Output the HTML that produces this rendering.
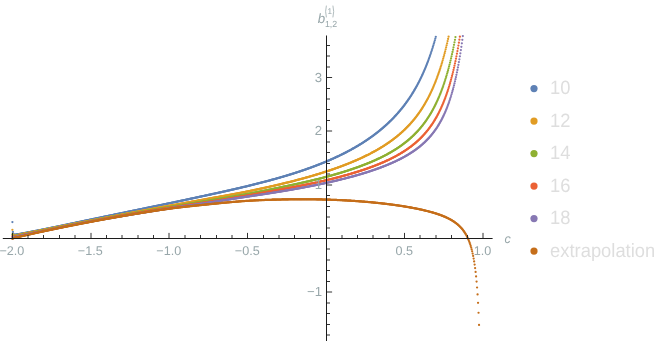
<!DOCTYPE html>
<html><head><meta charset="utf-8"><title>plot</title>
<style>
html,body{margin:0;padding:0;background:#fff;}
svg{display:block;font-family:"Liberation Sans",sans-serif;will-change:transform;transform:translateZ(0);}
text{text-rendering:geometricPrecision;}

</style></head><body>
<svg width="664" height="341" viewBox="0 0 664 341">
<rect width="664" height="341" fill="#fff"/>
<defs><marker id="mb" markerWidth="4" markerHeight="4" refX="2" refY="2" markerUnits="userSpaceOnUse"><circle cx="2" cy="2" r="1.12" fill="#5E81B5"/></marker><marker id="mo" markerWidth="4" markerHeight="4" refX="2" refY="2" markerUnits="userSpaceOnUse"><circle cx="2" cy="2" r="1.12" fill="#E19C24"/></marker><marker id="mg" markerWidth="4" markerHeight="4" refX="2" refY="2" markerUnits="userSpaceOnUse"><circle cx="2" cy="2" r="1.12" fill="#8FB032"/></marker><marker id="mr" markerWidth="4" markerHeight="4" refX="2" refY="2" markerUnits="userSpaceOnUse"><circle cx="2" cy="2" r="1.12" fill="#EB6235"/></marker><marker id="mp" markerWidth="4" markerHeight="4" refX="2" refY="2" markerUnits="userSpaceOnUse"><circle cx="2" cy="2" r="1.12" fill="#8778B3"/></marker><marker id="me" markerWidth="4" markerHeight="4" refX="2" refY="2" markerUnits="userSpaceOnUse"><circle cx="2" cy="2" r="1.12" fill="#C56E1A"/></marker></defs>
<polyline points="12.40,222.05 12.89,231.96 13.38,233.88 13.87,234.59 14.36,234.90 14.86,234.81 15.35,234.73 15.84,234.64 16.33,234.55 16.82,234.46 17.31,234.37 17.80,234.29 18.29,234.20 18.79,234.11 19.28,234.02 19.77,233.93 20.26,233.84 20.75,233.75 21.24,233.66 21.73,233.57 22.22,233.48 22.72,233.39 23.21,233.30 23.70,233.21 24.19,233.11 24.68,233.02 25.17,232.93 25.66,232.84 26.15,232.75 26.64,232.65 27.14,232.56 27.63,232.47 28.12,232.38 28.61,232.28 29.10,232.19 29.59,232.10 30.08,232.00 30.57,231.91 31.07,231.82 31.56,231.72 32.05,231.63 32.54,231.53 33.03,231.44 33.52,231.35 34.01,231.25 34.50,231.16 35.00,231.06 35.49,230.97 35.98,230.87 36.47,230.77 36.96,230.68 37.45,230.58 37.94,230.49 38.43,230.39 38.92,230.29 39.42,230.20 39.91,230.10 40.40,230.01 40.89,229.91 41.38,229.81 41.87,229.71 42.36,229.62 42.85,229.52 43.35,229.42 43.84,229.33 44.33,229.23 44.82,229.13 45.31,229.03 45.80,228.93 46.29,228.84 46.78,228.74 47.28,228.64 47.77,228.54 48.26,228.44 48.75,228.34 49.24,228.24 49.73,228.14 50.22,228.04 50.71,227.94 51.20,227.84 51.70,227.74 52.19,227.64 52.68,227.54 53.17,227.44 53.66,227.34 54.15,227.24 54.64,227.14 55.13,227.03 55.63,226.93 56.12,226.83 56.61,226.73 57.10,226.63 57.59,226.53 58.08,226.42 58.57,226.32 59.06,226.22 59.56,226.12 60.05,226.01 60.54,225.91 61.03,225.81 61.52,225.70 62.01,225.60 62.50,225.50 62.99,225.40 63.48,225.29 63.98,225.19 64.47,225.09 64.96,224.98 65.45,224.88 65.94,224.78 66.43,224.67 66.92,224.57 67.41,224.46 67.91,224.36 68.40,224.26 68.89,224.15 69.38,224.05 69.87,223.95 70.36,223.84 70.85,223.74 71.34,223.63 71.84,223.53 72.33,223.43 72.82,223.32 73.31,223.22 73.80,223.11 74.29,223.01 74.78,222.91 75.27,222.80 75.76,222.70 76.26,222.59 76.75,222.49 77.24,222.39 77.73,222.28 78.22,222.18 78.71,222.08 79.20,221.97 79.69,221.87 80.19,221.77 80.68,221.66 81.17,221.56 81.66,221.45 82.15,221.35 82.64,221.25 83.13,221.15 83.62,221.04 84.12,220.94 84.61,220.84 85.10,220.73 85.59,220.63 86.08,220.53 86.57,220.42 87.06,220.32 87.55,220.22 88.04,220.12 88.54,220.01 89.03,219.91 89.52,219.81 90.01,219.70 90.50,219.60 90.99,219.50 91.48,219.40 91.97,219.29 92.47,219.19 92.96,219.09 93.45,218.99 93.94,218.88 94.43,218.78 94.92,218.68 95.41,218.57 95.90,218.47 96.40,218.37 96.89,218.27 97.38,218.16 97.87,218.06 98.36,217.96 98.85,217.86 99.34,217.76 99.83,217.65 100.32,217.55 100.82,217.45 101.31,217.35 101.80,217.24 102.29,217.14 102.78,217.04 103.27,216.94 103.76,216.84 104.25,216.73 104.75,216.63 105.24,216.53 105.73,216.43 106.22,216.32 106.71,216.22 107.20,216.12 107.69,216.02 108.18,215.92 108.68,215.81 109.17,215.71 109.66,215.61 110.15,215.51 110.64,215.41 111.13,215.30 111.62,215.20 112.11,215.10 112.60,215.00 113.10,214.90 113.59,214.79 114.08,214.69 114.57,214.59 115.06,214.49 115.55,214.39 116.04,214.28 116.53,214.18 117.03,214.08 117.52,213.98 118.01,213.88 118.50,213.78 118.99,213.67 119.48,213.57 119.97,213.47 120.46,213.37 120.96,213.27 121.45,213.16 121.94,213.06 122.43,212.96 122.92,212.86 123.41,212.76 123.90,212.65 124.39,212.55 124.88,212.45 125.38,212.35 125.87,212.25 126.36,212.14 126.85,212.04 127.34,211.94 127.83,211.84 128.32,211.74 128.81,211.64 129.31,211.53 129.80,211.43 130.29,211.33 130.78,211.23 131.27,211.13 131.76,211.03 132.25,210.92 132.74,210.82 133.24,210.72 133.73,210.62 134.22,210.52 134.71,210.42 135.20,210.32 135.69,210.22 136.18,210.11 136.67,210.01 137.16,209.91 137.66,209.81 138.15,209.71 138.64,209.61 139.13,209.51 139.62,209.41 140.11,209.31 140.60,209.20 141.09,209.10 141.59,209.00 142.08,208.90 142.57,208.80 143.06,208.70 143.55,208.60 144.04,208.50 144.53,208.40 145.02,208.30 145.52,208.19 146.01,208.09 146.50,207.99 146.99,207.89 147.48,207.79 147.97,207.69 148.46,207.59 148.95,207.49 149.44,207.39 149.94,207.29 150.43,207.18 150.92,207.08 151.41,206.98 151.90,206.88 152.39,206.78 152.88,206.68 153.37,206.58 153.87,206.48 154.36,206.38 154.85,206.27 155.34,206.17 155.83,206.07 156.32,205.97 156.81,205.87 157.30,205.77 157.80,205.67 158.29,205.56 158.78,205.46 159.27,205.36 159.76,205.26 160.25,205.16 160.74,205.06 161.23,204.96 161.72,204.85 162.22,204.75 162.71,204.65 163.20,204.55 163.69,204.45 164.18,204.34 164.67,204.24 165.16,204.14 165.65,204.04 166.15,203.94 166.64,203.83 167.13,203.73 167.62,203.63 168.11,203.53 168.60,203.42 169.09,203.32 169.58,203.22 170.08,203.12 170.57,203.01 171.06,202.91 171.55,202.81 172.04,202.70 172.53,202.60 173.02,202.50 173.51,202.39 174.00,202.29 174.50,202.19 174.99,202.08 175.48,201.98 175.97,201.88 176.46,201.77 176.95,201.67 177.44,201.56 177.93,201.46 178.43,201.36 178.92,201.25 179.41,201.15 179.90,201.04 180.39,200.94 180.88,200.84 181.37,200.73 181.86,200.63 182.36,200.52 182.85,200.42 183.34,200.31 183.83,200.21 184.32,200.11 184.81,200.00 185.30,199.90 185.79,199.79 186.28,199.69 186.78,199.58 187.27,199.48 187.76,199.37 188.25,199.27 188.74,199.16 189.23,199.06 189.72,198.95 190.21,198.85 190.71,198.74 191.20,198.64 191.69,198.53 192.18,198.43 192.67,198.32 193.16,198.22 193.65,198.11 194.14,198.01 194.64,197.90 195.13,197.80 195.62,197.69 196.11,197.59 196.60,197.48 197.09,197.37 197.58,197.27 198.07,197.16 198.56,197.06 199.06,196.95 199.55,196.85 200.04,196.74 200.53,196.64 201.02,196.53 201.51,196.43 202.00,196.32 202.49,196.21 202.99,196.11 203.48,196.00 203.97,195.90 204.46,195.79 204.95,195.69 205.44,195.58 205.93,195.47 206.42,195.37 206.92,195.26 207.41,195.16 207.90,195.05 208.39,194.95 208.88,194.84 209.37,194.73 209.86,194.63 210.35,194.52 210.84,194.42 211.34,194.31 211.83,194.20 212.32,194.10 212.81,193.99 213.30,193.88 213.79,193.78 214.28,193.67 214.77,193.56 215.27,193.46 215.76,193.35 216.25,193.24 216.74,193.13 217.23,193.03 217.72,192.92 218.21,192.81 218.70,192.70 219.20,192.59 219.69,192.49 220.18,192.38 220.67,192.27 221.16,192.16 221.65,192.05 222.14,191.94 222.63,191.83 223.12,191.72 223.62,191.61 224.11,191.50 224.60,191.39 225.09,191.29 225.58,191.18 226.07,191.07 226.56,190.95 227.05,190.84 227.55,190.73 228.04,190.62 228.53,190.51 229.02,190.40 229.51,190.29 230.00,190.18 230.49,190.07 230.98,189.96 231.48,189.84 231.97,189.73 232.46,189.62 232.95,189.51 233.44,189.39 233.93,189.28 234.42,189.17 234.91,189.06 235.40,188.94 235.90,188.83 236.39,188.71 236.88,188.60 237.37,188.49 237.86,188.37 238.35,188.26 238.84,188.14 239.33,188.03 239.83,187.91 240.32,187.80 240.81,187.68 241.30,187.57 241.79,187.45 242.28,187.33 242.77,187.22 243.26,187.10 243.76,186.98 244.25,186.87 244.74,186.75 245.23,186.63 245.72,186.51 246.21,186.40 246.70,186.28 247.19,186.16 247.68,186.04 248.18,185.92 248.67,185.80 249.16,185.68 249.65,185.56 250.14,185.44 250.63,185.32 251.12,185.20 251.61,185.08 252.11,184.96 252.60,184.84 253.09,184.72 253.58,184.59 254.07,184.47 254.56,184.35 255.05,184.23 255.54,184.10 256.04,183.98 256.53,183.86 257.02,183.73 257.51,183.61 258.00,183.48 258.49,183.36 258.98,183.23 259.47,183.11 259.96,182.98 260.46,182.86 260.95,182.73 261.44,182.60 261.93,182.48 262.42,182.35 262.91,182.22 263.40,182.09 263.89,181.96 264.39,181.84 264.88,181.71 265.37,181.58 265.86,181.45 266.35,181.32 266.84,181.19 267.33,181.05 267.82,180.92 268.32,180.79 268.81,180.66 269.30,180.53 269.79,180.39 270.28,180.26 270.77,180.13 271.26,179.99 271.75,179.86 272.24,179.73 272.74,179.59 273.23,179.45 273.72,179.32 274.21,179.18 274.70,179.05 275.19,178.91 275.68,178.77 276.17,178.63 276.67,178.49 277.16,178.36 277.65,178.22 278.14,178.08 278.63,177.94 279.12,177.80 279.61,177.65 280.10,177.51 280.60,177.37 281.09,177.23 281.58,177.09 282.07,176.94 282.56,176.80 283.05,176.65 283.54,176.51 284.03,176.36 284.52,176.22 285.02,176.07 285.51,175.93 286.00,175.78 286.49,175.63 286.98,175.48 287.47,175.33 287.96,175.19 288.45,175.04 288.95,174.89 289.44,174.73 289.93,174.58 290.42,174.43 290.91,174.28 291.40,174.13 291.89,173.97 292.38,173.82 292.88,173.66 293.37,173.51 293.86,173.35 294.35,173.20 294.84,173.04 295.33,172.88 295.82,172.72 296.31,172.56 296.80,172.41 297.30,172.25 297.79,172.08 298.28,171.92 298.77,171.76 299.26,171.60 299.75,171.44 300.24,171.27 300.73,171.11 301.23,170.94 301.72,170.78 302.21,170.61 302.70,170.45 303.19,170.28 303.68,170.11 304.17,169.94 304.66,169.77 305.16,169.60 305.65,169.43 306.14,169.26 306.63,169.09 307.12,168.91 307.61,168.74 308.10,168.56 308.59,168.39 309.08,168.21 309.58,168.04 310.07,167.86 310.56,167.68 311.05,167.50 311.54,167.32 312.03,167.14 312.52,166.96 313.01,166.78 313.51,166.60 314.00,166.41 314.49,166.23 314.98,166.04 315.47,165.86 315.96,165.67 316.45,165.48 316.94,165.29 317.44,165.10 317.93,164.91 318.42,164.72 318.91,164.53 319.40,164.34 319.89,164.14 320.38,163.95 320.87,163.75 321.36,163.56 321.86,163.36 322.35,163.16 322.84,162.96 323.33,162.76 323.82,162.56 324.31,162.36 324.80,162.16 325.29,161.95 325.79,161.75 326.28,161.54 326.77,161.33 327.26,161.13 327.75,160.92 328.24,160.71 328.73,160.50 329.22,160.28 329.72,160.07 330.21,159.86 330.70,159.64 331.19,159.43 331.68,159.21 332.17,158.99 332.66,158.77 333.15,158.55 333.64,158.33 334.14,158.11 334.63,157.88 335.12,157.66 335.61,157.43 336.10,157.20 336.59,156.97 337.08,156.74 337.57,156.51 338.07,156.28 338.56,156.05 339.05,155.81 339.54,155.58 340.03,155.34 340.52,155.10 341.01,154.86 341.50,154.62 342.00,154.38 342.49,154.13 342.98,153.89 343.47,153.64 343.96,153.40 344.45,153.15 344.94,152.90 345.43,152.64 345.92,152.39 346.42,152.14 346.91,151.88 347.40,151.62 347.89,151.36 348.38,151.10 348.87,150.84 349.36,150.58 349.85,150.31 350.35,150.04 350.84,149.78 351.33,149.51 351.82,149.23 352.31,148.96 352.80,148.69 353.29,148.41 353.78,148.13 354.28,147.85 354.77,147.57 355.26,147.29 355.75,147.00 356.24,146.72 356.73,146.43 357.22,146.14 357.71,145.85 358.20,145.55 358.70,145.26 359.19,144.96 359.68,144.66 360.17,144.36 360.66,144.06 361.15,143.75 361.64,143.44 362.13,143.14 362.63,142.82 363.12,142.51 363.61,142.20 364.10,141.88 364.59,141.56 365.08,141.24 365.57,140.91 366.06,140.59 366.56,140.26 367.05,139.93 367.54,139.60 368.03,139.26 368.52,138.93 369.01,138.59 369.50,138.24 369.99,137.90 370.48,137.55 370.98,137.20 371.47,136.85 371.96,136.50 372.45,136.14 372.94,135.78 373.43,135.42 373.92,135.05 374.41,134.69 374.91,134.32 375.40,133.94 375.89,133.57 376.38,133.19 376.87,132.81 377.36,132.42 377.85,132.03 378.34,131.64 378.84,131.25 379.33,130.85 379.82,130.45 380.31,130.05 380.80,129.64 381.29,129.24 381.78,128.82 382.27,128.41 382.76,127.99 383.26,127.56 383.75,127.14 384.24,126.71 384.73,126.27 385.22,125.84 385.71,125.39 386.20,124.95 386.69,124.50 387.19,124.05 387.68,123.59 388.17,123.13 388.66,122.66 389.15,122.20 389.64,121.72 390.13,121.24 390.62,120.76 391.12,120.28 391.61,119.78 392.10,119.29 392.59,118.79 393.08,118.28 393.57,117.77 394.06,117.26 394.55,116.74 395.04,116.21 395.54,115.68 396.03,115.15 396.52,114.61 397.01,114.06 397.50,113.51 397.99,112.95 398.48,112.39 398.97,111.82 399.47,111.24 399.96,110.66 400.45,110.07 400.94,109.48 401.43,108.88 401.92,108.27 402.41,107.66 402.90,107.04 403.40,106.41 403.89,105.77 404.38,105.13 404.87,104.48 405.36,103.83 405.85,103.16 406.34,102.49 406.83,101.81 407.32,101.12 407.82,100.42 408.31,99.71 408.80,99.00 409.29,98.27 409.78,97.54 410.27,96.80 410.76,96.05 411.25,95.28 411.75,94.51 412.24,93.73 412.73,92.94 413.22,92.13 413.71,91.32 414.20,90.49 414.69,89.65 415.18,88.81 415.68,87.94 416.17,87.07 416.66,86.18 417.15,85.28 417.64,84.37 418.13,83.44 418.62,82.50 419.11,81.55 419.60,80.58 420.10,79.59 420.59,78.59 421.08,77.57 421.57,76.54 422.06,75.49 422.55,74.42 423.04,73.34 423.53,72.23 424.03,71.11 424.52,69.97 425.01,68.81 425.50,67.63 425.99,66.42 426.48,65.20 426.97,63.95 427.46,62.68 427.96,61.39 428.45,60.07 428.94,58.72 429.43,57.36 429.92,55.96 430.41,54.53 430.90,53.08 431.39,51.60 431.88,50.09 432.38,48.54 432.87,46.97 433.36,45.36 433.85,43.72 434.34,42.04 434.83,40.32 435.32,38.56 435.81,36.77" fill="none" stroke="none" marker-start="url(#mb)" marker-mid="url(#mb)" marker-end="url(#mb)"/>
<polyline points="12.40,229.80 12.89,234.29 13.38,235.49 13.87,235.88 14.36,235.77 14.86,235.67 15.35,235.56 15.84,235.45 16.33,235.35 16.82,235.24 17.31,235.14 17.80,235.03 18.29,234.92 18.79,234.82 19.28,234.71 19.77,234.61 20.26,234.50 20.75,234.40 21.24,234.30 21.73,234.19 22.22,234.09 22.72,233.99 23.21,233.89 23.70,233.79 24.19,233.69 24.68,233.59 25.17,233.49 25.66,233.39 26.15,233.29 26.64,233.19 27.14,233.10 27.63,233.00 28.12,232.90 28.61,232.81 29.10,232.71 29.59,232.61 30.08,232.52 30.57,232.42 31.07,232.33 31.56,232.23 32.05,232.13 32.54,232.04 33.03,231.94 33.52,231.85 34.01,231.75 34.50,231.66 35.00,231.56 35.49,231.47 35.98,231.37 36.47,231.28 36.96,231.18 37.45,231.09 37.94,230.99 38.43,230.90 38.92,230.80 39.42,230.70 39.91,230.61 40.40,230.51 40.89,230.42 41.38,230.32 41.87,230.22 42.36,230.12 42.85,230.02 43.35,229.93 43.84,229.83 44.33,229.73 44.82,229.63 45.31,229.53 45.80,229.43 46.29,229.33 46.78,229.23 47.28,229.13 47.77,229.03 48.26,228.93 48.75,228.83 49.24,228.73 49.73,228.63 50.22,228.53 50.71,228.43 51.20,228.33 51.70,228.24 52.19,228.14 52.68,228.04 53.17,227.94 53.66,227.84 54.15,227.74 54.64,227.64 55.13,227.54 55.63,227.45 56.12,227.35 56.61,227.25 57.10,227.15 57.59,227.05 58.08,226.95 58.57,226.86 59.06,226.76 59.56,226.66 60.05,226.56 60.54,226.47 61.03,226.37 61.52,226.27 62.01,226.17 62.50,226.08 62.99,225.98 63.48,225.88 63.98,225.78 64.47,225.69 64.96,225.59 65.45,225.49 65.94,225.40 66.43,225.30 66.92,225.20 67.41,225.10 67.91,225.01 68.40,224.91 68.89,224.81 69.38,224.72 69.87,224.62 70.36,224.53 70.85,224.43 71.34,224.33 71.84,224.24 72.33,224.14 72.82,224.04 73.31,223.95 73.80,223.85 74.29,223.76 74.78,223.66 75.27,223.57 75.76,223.47 76.26,223.37 76.75,223.28 77.24,223.18 77.73,223.09 78.22,222.99 78.71,222.90 79.20,222.80 79.69,222.71 80.19,222.61 80.68,222.52 81.17,222.42 81.66,222.33 82.15,222.23 82.64,222.14 83.13,222.04 83.62,221.95 84.12,221.85 84.61,221.76 85.10,221.66 85.59,221.57 86.08,221.47 86.57,221.38 87.06,221.28 87.55,221.19 88.04,221.09 88.54,221.00 89.03,220.90 89.52,220.81 90.01,220.71 90.50,220.62 90.99,220.52 91.48,220.43 91.97,220.33 92.47,220.24 92.96,220.14 93.45,220.05 93.94,219.95 94.43,219.86 94.92,219.76 95.41,219.67 95.90,219.57 96.40,219.48 96.89,219.38 97.38,219.29 97.87,219.19 98.36,219.09 98.85,219.00 99.34,218.90 99.83,218.81 100.32,218.71 100.82,218.62 101.31,218.52 101.80,218.43 102.29,218.33 102.78,218.24 103.27,218.14 103.76,218.05 104.25,217.95 104.75,217.86 105.24,217.76 105.73,217.67 106.22,217.57 106.71,217.48 107.20,217.38 107.69,217.29 108.18,217.19 108.68,217.10 109.17,217.00 109.66,216.91 110.15,216.81 110.64,216.72 111.13,216.63 111.62,216.53 112.11,216.44 112.60,216.34 113.10,216.25 113.59,216.15 114.08,216.06 114.57,215.97 115.06,215.87 115.55,215.78 116.04,215.68 116.53,215.59 117.03,215.50 117.52,215.40 118.01,215.31 118.50,215.22 118.99,215.12 119.48,215.03 119.97,214.94 120.46,214.84 120.96,214.75 121.45,214.66 121.94,214.56 122.43,214.47 122.92,214.38 123.41,214.29 123.90,214.19 124.39,214.10 124.88,214.01 125.38,213.92 125.87,213.82 126.36,213.73 126.85,213.64 127.34,213.55 127.83,213.46 128.32,213.36 128.81,213.27 129.31,213.18 129.80,213.09 130.29,212.99 130.78,212.90 131.27,212.81 131.76,212.72 132.25,212.63 132.74,212.53 133.24,212.44 133.73,212.35 134.22,212.26 134.71,212.16 135.20,212.07 135.69,211.98 136.18,211.89 136.67,211.80 137.16,211.70 137.66,211.61 138.15,211.52 138.64,211.43 139.13,211.34 139.62,211.24 140.11,211.15 140.60,211.06 141.09,210.97 141.59,210.88 142.08,210.78 142.57,210.69 143.06,210.60 143.55,210.51 144.04,210.42 144.53,210.33 145.02,210.24 145.52,210.14 146.01,210.05 146.50,209.96 146.99,209.87 147.48,209.78 147.97,209.69 148.46,209.60 148.95,209.50 149.44,209.41 149.94,209.32 150.43,209.23 150.92,209.14 151.41,209.05 151.90,208.96 152.39,208.87 152.88,208.78 153.37,208.69 153.87,208.60 154.36,208.51 154.85,208.41 155.34,208.32 155.83,208.23 156.32,208.14 156.81,208.05 157.30,207.96 157.80,207.87 158.29,207.78 158.78,207.69 159.27,207.60 159.76,207.51 160.25,207.42 160.74,207.34 161.23,207.25 161.72,207.16 162.22,207.07 162.71,206.98 163.20,206.89 163.69,206.80 164.18,206.71 164.67,206.62 165.16,206.53 165.65,206.44 166.15,206.36 166.64,206.27 167.13,206.18 167.62,206.09 168.11,206.00 168.60,205.91 169.09,205.82 169.58,205.74 170.08,205.65 170.57,205.56 171.06,205.47 171.55,205.38 172.04,205.29 172.53,205.20 173.02,205.12 173.51,205.03 174.00,204.94 174.50,204.85 174.99,204.76 175.48,204.67 175.97,204.58 176.46,204.50 176.95,204.41 177.44,204.32 177.93,204.23 178.43,204.14 178.92,204.05 179.41,203.96 179.90,203.87 180.39,203.79 180.88,203.70 181.37,203.61 181.86,203.52 182.36,203.43 182.85,203.34 183.34,203.25 183.83,203.16 184.32,203.08 184.81,202.99 185.30,202.90 185.79,202.81 186.28,202.72 186.78,202.63 187.27,202.54 187.76,202.45 188.25,202.36 188.74,202.28 189.23,202.19 189.72,202.10 190.21,202.01 190.71,201.92 191.20,201.83 191.69,201.74 192.18,201.65 192.67,201.56 193.16,201.47 193.65,201.38 194.14,201.30 194.64,201.21 195.13,201.12 195.62,201.03 196.11,200.94 196.60,200.85 197.09,200.76 197.58,200.67 198.07,200.58 198.56,200.49 199.06,200.40 199.55,200.31 200.04,200.22 200.53,200.13 201.02,200.04 201.51,199.95 202.00,199.86 202.49,199.78 202.99,199.69 203.48,199.60 203.97,199.51 204.46,199.42 204.95,199.33 205.44,199.24 205.93,199.15 206.42,199.06 206.92,198.97 207.41,198.88 207.90,198.79 208.39,198.70 208.88,198.61 209.37,198.52 209.86,198.43 210.35,198.34 210.84,198.25 211.34,198.16 211.83,198.07 212.32,197.98 212.81,197.89 213.30,197.80 213.79,197.72 214.28,197.63 214.77,197.54 215.27,197.45 215.76,197.36 216.25,197.27 216.74,197.19 217.23,197.10 217.72,197.01 218.21,196.92 218.70,196.83 219.20,196.75 219.69,196.66 220.18,196.57 220.67,196.48 221.16,196.39 221.65,196.31 222.14,196.22 222.63,196.13 223.12,196.04 223.62,195.95 224.11,195.87 224.60,195.78 225.09,195.69 225.58,195.60 226.07,195.51 226.56,195.42 227.05,195.34 227.55,195.25 228.04,195.16 228.53,195.07 229.02,194.98 229.51,194.89 230.00,194.80 230.49,194.71 230.98,194.62 231.48,194.53 231.97,194.44 232.46,194.35 232.95,194.26 233.44,194.17 233.93,194.08 234.42,193.99 234.91,193.90 235.40,193.81 235.90,193.71 236.39,193.62 236.88,193.53 237.37,193.44 237.86,193.34 238.35,193.25 238.84,193.16 239.33,193.06 239.83,192.97 240.32,192.88 240.81,192.78 241.30,192.69 241.79,192.59 242.28,192.50 242.77,192.40 243.26,192.30 243.76,192.21 244.25,192.11 244.74,192.01 245.23,191.91 245.72,191.82 246.21,191.72 246.70,191.62 247.19,191.52 247.68,191.42 248.18,191.32 248.67,191.22 249.16,191.12 249.65,191.02 250.14,190.92 250.63,190.81 251.12,190.71 251.61,190.61 252.11,190.51 252.60,190.41 253.09,190.30 253.58,190.20 254.07,190.10 254.56,189.99 255.05,189.89 255.54,189.79 256.04,189.68 256.53,189.58 257.02,189.47 257.51,189.37 258.00,189.26 258.49,189.16 258.98,189.05 259.47,188.95 259.96,188.84 260.46,188.74 260.95,188.63 261.44,188.52 261.93,188.42 262.42,188.31 262.91,188.20 263.40,188.10 263.89,187.99 264.39,187.88 264.88,187.77 265.37,187.66 265.86,187.56 266.35,187.45 266.84,187.34 267.33,187.23 267.82,187.12 268.32,187.01 268.81,186.90 269.30,186.79 269.79,186.68 270.28,186.57 270.77,186.46 271.26,186.34 271.75,186.23 272.24,186.12 272.74,186.01 273.23,185.90 273.72,185.78 274.21,185.67 274.70,185.56 275.19,185.44 275.68,185.33 276.17,185.21 276.67,185.10 277.16,184.98 277.65,184.87 278.14,184.75 278.63,184.64 279.12,184.52 279.61,184.40 280.10,184.29 280.60,184.17 281.09,184.05 281.58,183.94 282.07,183.82 282.56,183.70 283.05,183.58 283.54,183.46 284.03,183.34 284.52,183.22 285.02,183.10 285.51,182.98 286.00,182.86 286.49,182.74 286.98,182.62 287.47,182.50 287.96,182.38 288.45,182.25 288.95,182.13 289.44,182.01 289.93,181.88 290.42,181.76 290.91,181.64 291.40,181.51 291.89,181.39 292.38,181.26 292.88,181.14 293.37,181.01 293.86,180.88 294.35,180.76 294.84,180.63 295.33,180.50 295.82,180.37 296.31,180.24 296.80,180.12 297.30,179.99 297.79,179.86 298.28,179.73 298.77,179.60 299.26,179.46 299.75,179.33 300.24,179.20 300.73,179.07 301.23,178.94 301.72,178.80 302.21,178.67 302.70,178.54 303.19,178.40 303.68,178.27 304.17,178.13 304.66,178.00 305.16,177.86 305.65,177.72 306.14,177.59 306.63,177.45 307.12,177.31 307.61,177.17 308.10,177.03 308.59,176.89 309.08,176.75 309.58,176.61 310.07,176.47 310.56,176.33 311.05,176.19 311.54,176.05 312.03,175.90 312.52,175.76 313.01,175.62 313.51,175.47 314.00,175.33 314.49,175.18 314.98,175.04 315.47,174.89 315.96,174.74 316.45,174.59 316.94,174.45 317.44,174.30 317.93,174.15 318.42,174.00 318.91,173.85 319.40,173.70 319.89,173.54 320.38,173.39 320.87,173.24 321.36,173.09 321.86,172.93 322.35,172.78 322.84,172.62 323.33,172.47 323.82,172.31 324.31,172.15 324.80,171.99 325.29,171.84 325.79,171.68 326.28,171.52 326.77,171.36 327.26,171.20 327.75,171.03 328.24,170.87 328.73,170.71 329.22,170.54 329.72,170.38 330.21,170.21 330.70,170.05 331.19,169.88 331.68,169.72 332.17,169.55 332.66,169.38 333.15,169.21 333.64,169.04 334.14,168.87 334.63,168.70 335.12,168.52 335.61,168.35 336.10,168.18 336.59,168.00 337.08,167.83 337.57,167.65 338.07,167.47 338.56,167.30 339.05,167.12 339.54,166.94 340.03,166.76 340.52,166.58 341.01,166.39 341.50,166.21 342.00,166.03 342.49,165.84 342.98,165.66 343.47,165.47 343.96,165.28 344.45,165.09 344.94,164.91 345.43,164.72 345.92,164.52 346.42,164.33 346.91,164.14 347.40,163.95 347.89,163.75 348.38,163.55 348.87,163.36 349.36,163.16 349.85,162.96 350.35,162.76 350.84,162.56 351.33,162.36 351.82,162.15 352.31,161.95 352.80,161.74 353.29,161.54 353.78,161.33 354.28,161.12 354.77,160.91 355.26,160.70 355.75,160.49 356.24,160.27 356.73,160.06 357.22,159.84 357.71,159.63 358.20,159.41 358.70,159.19 359.19,158.97 359.68,158.75 360.17,158.52 360.66,158.30 361.15,158.07 361.64,157.85 362.13,157.62 362.63,157.39 363.12,157.16 363.61,156.92 364.10,156.69 364.59,156.45 365.08,156.22 365.57,155.98 366.06,155.74 366.56,155.49 367.05,155.25 367.54,155.01 368.03,154.76 368.52,154.51 369.01,154.26 369.50,154.01 369.99,153.76 370.48,153.50 370.98,153.25 371.47,152.99 371.96,152.73 372.45,152.47 372.94,152.20 373.43,151.94 373.92,151.67 374.41,151.40 374.91,151.13 375.40,150.86 375.89,150.58 376.38,150.31 376.87,150.03 377.36,149.75 377.85,149.46 378.34,149.18 378.84,148.89 379.33,148.60 379.82,148.31 380.31,148.02 380.80,147.72 381.29,147.42 381.78,147.12 382.27,146.82 382.76,146.51 383.26,146.20 383.75,145.89 384.24,145.58 384.73,145.26 385.22,144.94 385.71,144.62 386.20,144.30 386.69,143.97 387.19,143.64 387.68,143.31 388.17,142.97 388.66,142.64 389.15,142.30 389.64,141.95 390.13,141.60 390.62,141.25 391.12,140.90 391.61,140.54 392.10,140.18 392.59,139.82 393.08,139.45 393.57,139.08 394.06,138.71 394.55,138.33 395.04,137.95 395.54,137.56 396.03,137.17 396.52,136.78 397.01,136.38 397.50,135.98 397.99,135.58 398.48,135.17 398.97,134.75 399.47,134.34 399.96,133.91 400.45,133.49 400.94,133.05 401.43,132.62 401.92,132.18 402.41,131.73 402.90,131.28 403.40,130.82 403.89,130.36 404.38,129.90 404.87,129.42 405.36,128.95 405.85,128.46 406.34,127.97 406.83,127.48 407.32,126.98 407.82,126.47 408.31,125.96 408.80,125.44 409.29,124.91 409.78,124.38 410.27,123.84 410.76,123.29 411.25,122.74 411.75,122.18 412.24,121.61 412.73,121.04 413.22,120.45 413.71,119.86 414.20,119.26 414.69,118.65 415.18,118.04 415.68,117.41 416.17,116.78 416.66,116.13 417.15,115.48 417.64,114.82 418.13,114.15 418.62,113.47 419.11,112.78 419.60,112.07 420.10,111.36 420.59,110.64 421.08,109.90 421.57,109.16 422.06,108.40 422.55,107.63 423.04,106.84 423.53,106.05 424.03,105.24 424.52,104.42 425.01,103.58 425.50,102.73 425.99,101.87 426.48,100.99 426.97,100.10 427.46,99.19 427.96,98.26 428.45,97.32 428.94,96.36 429.43,95.38 429.92,94.39 430.41,93.38 430.90,92.35 431.39,91.30 431.88,90.23 432.38,89.14 432.87,88.03 433.36,86.89 433.85,85.74 434.34,84.56 434.83,83.36 435.32,82.14 435.81,80.89 436.31,79.61 436.80,78.31 437.29,76.98 437.78,75.62 438.27,74.24 438.76,72.82 439.25,71.38 439.74,69.90 440.24,68.39 440.73,66.85 441.22,65.28 441.71,63.66 442.20,62.02 442.69,60.33 443.18,58.61 443.67,56.84 444.16,55.04 444.66,53.19 445.15,51.30 445.64,49.36 446.13,47.37 446.62,45.34 447.11,43.26 447.60,41.12 448.09,38.93 448.59,36.69" fill="none" stroke="none" marker-start="url(#mo)" marker-mid="url(#mo)" marker-end="url(#mo)"/>
<polyline points="12.40,234.30 12.89,235.80 13.38,236.49 13.87,236.38 14.36,236.27 14.86,236.17 15.35,236.06 15.84,235.95 16.33,235.84 16.82,235.74 17.31,235.63 17.80,235.52 18.29,235.42 18.79,235.31 19.28,235.20 19.77,235.10 20.26,234.99 20.75,234.89 21.24,234.78 21.73,234.68 22.22,234.58 22.72,234.47 23.21,234.37 23.70,234.27 24.19,234.17 24.68,234.07 25.17,233.97 25.66,233.87 26.15,233.77 26.64,233.67 27.14,233.57 27.63,233.47 28.12,233.37 28.61,233.27 29.10,233.17 29.59,233.08 30.08,232.98 30.57,232.88 31.07,232.78 31.56,232.69 32.05,232.59 32.54,232.49 33.03,232.40 33.52,232.30 34.01,232.20 34.50,232.11 35.00,232.01 35.49,231.92 35.98,231.82 36.47,231.72 36.96,231.63 37.45,231.53 37.94,231.43 38.43,231.34 38.92,231.24 39.42,231.14 39.91,231.05 40.40,230.95 40.89,230.85 41.38,230.75 41.87,230.66 42.36,230.56 42.85,230.46 43.35,230.36 43.84,230.26 44.33,230.16 44.82,230.06 45.31,229.96 45.80,229.86 46.29,229.76 46.78,229.66 47.28,229.56 47.77,229.46 48.26,229.36 48.75,229.26 49.24,229.16 49.73,229.06 50.22,228.96 50.71,228.86 51.20,228.76 51.70,228.67 52.19,228.57 52.68,228.47 53.17,228.37 53.66,228.27 54.15,228.17 54.64,228.07 55.13,227.97 55.63,227.87 56.12,227.78 56.61,227.68 57.10,227.58 57.59,227.48 58.08,227.38 58.57,227.28 59.06,227.19 59.56,227.09 60.05,226.99 60.54,226.89 61.03,226.79 61.52,226.70 62.01,226.60 62.50,226.50 62.99,226.40 63.48,226.31 63.98,226.21 64.47,226.11 64.96,226.01 65.45,225.92 65.94,225.82 66.43,225.72 66.92,225.62 67.41,225.53 67.91,225.43 68.40,225.33 68.89,225.24 69.38,225.14 69.87,225.04 70.36,224.95 70.85,224.85 71.34,224.75 71.84,224.66 72.33,224.56 72.82,224.46 73.31,224.37 73.80,224.27 74.29,224.18 74.78,224.08 75.27,223.98 75.76,223.89 76.26,223.79 76.75,223.70 77.24,223.60 77.73,223.50 78.22,223.41 78.71,223.31 79.20,223.22 79.69,223.12 80.19,223.03 80.68,222.93 81.17,222.84 81.66,222.74 82.15,222.64 82.64,222.55 83.13,222.45 83.62,222.36 84.12,222.26 84.61,222.17 85.10,222.07 85.59,221.98 86.08,221.88 86.57,221.79 87.06,221.69 87.55,221.60 88.04,221.50 88.54,221.41 89.03,221.31 89.52,221.22 90.01,221.12 90.50,221.03 90.99,220.93 91.48,220.84 91.97,220.75 92.47,220.65 92.96,220.56 93.45,220.46 93.94,220.37 94.43,220.27 94.92,220.18 95.41,220.08 95.90,219.99 96.40,219.90 96.89,219.80 97.38,219.71 97.87,219.61 98.36,219.52 98.85,219.43 99.34,219.33 99.83,219.24 100.32,219.15 100.82,219.05 101.31,218.96 101.80,218.86 102.29,218.77 102.78,218.68 103.27,218.59 103.76,218.49 104.25,218.40 104.75,218.31 105.24,218.21 105.73,218.12 106.22,218.03 106.71,217.94 107.20,217.84 107.69,217.75 108.18,217.66 108.68,217.57 109.17,217.47 109.66,217.38 110.15,217.29 110.64,217.20 111.13,217.11 111.62,217.02 112.11,216.93 112.60,216.83 113.10,216.74 113.59,216.65 114.08,216.56 114.57,216.47 115.06,216.38 115.55,216.29 116.04,216.20 116.53,216.11 117.03,216.02 117.52,215.93 118.01,215.84 118.50,215.75 118.99,215.66 119.48,215.57 119.97,215.48 120.46,215.39 120.96,215.30 121.45,215.22 121.94,215.13 122.43,215.04 122.92,214.95 123.41,214.86 123.90,214.77 124.39,214.69 124.88,214.60 125.38,214.51 125.87,214.42 126.36,214.34 126.85,214.25 127.34,214.16 127.83,214.08 128.32,213.99 128.81,213.90 129.31,213.82 129.80,213.73 130.29,213.64 130.78,213.56 131.27,213.47 131.76,213.38 132.25,213.30 132.74,213.21 133.24,213.13 133.73,213.04 134.22,212.96 134.71,212.87 135.20,212.79 135.69,212.70 136.18,212.62 136.67,212.53 137.16,212.45 137.66,212.36 138.15,212.28 138.64,212.19 139.13,212.11 139.62,212.03 140.11,211.94 140.60,211.86 141.09,211.77 141.59,211.69 142.08,211.61 142.57,211.52 143.06,211.44 143.55,211.36 144.04,211.27 144.53,211.19 145.02,211.11 145.52,211.02 146.01,210.94 146.50,210.86 146.99,210.77 147.48,210.69 147.97,210.61 148.46,210.53 148.95,210.44 149.44,210.36 149.94,210.28 150.43,210.20 150.92,210.11 151.41,210.03 151.90,209.95 152.39,209.87 152.88,209.78 153.37,209.70 153.87,209.62 154.36,209.54 154.85,209.46 155.34,209.37 155.83,209.29 156.32,209.21 156.81,209.13 157.30,209.05 157.80,208.97 158.29,208.88 158.78,208.80 159.27,208.72 159.76,208.64 160.25,208.56 160.74,208.48 161.23,208.39 161.72,208.31 162.22,208.23 162.71,208.15 163.20,208.07 163.69,207.99 164.18,207.91 164.67,207.83 165.16,207.74 165.65,207.66 166.15,207.58 166.64,207.50 167.13,207.42 167.62,207.34 168.11,207.26 168.60,207.18 169.09,207.10 169.58,207.01 170.08,206.93 170.57,206.85 171.06,206.77 171.55,206.69 172.04,206.61 172.53,206.53 173.02,206.45 173.51,206.37 174.00,206.29 174.50,206.21 174.99,206.13 175.48,206.05 175.97,205.97 176.46,205.89 176.95,205.81 177.44,205.73 177.93,205.65 178.43,205.57 178.92,205.49 179.41,205.41 179.90,205.33 180.39,205.25 180.88,205.17 181.37,205.09 181.86,205.01 182.36,204.93 182.85,204.85 183.34,204.77 183.83,204.69 184.32,204.61 184.81,204.53 185.30,204.45 185.79,204.37 186.28,204.29 186.78,204.21 187.27,204.13 187.76,204.05 188.25,203.97 188.74,203.89 189.23,203.81 189.72,203.73 190.21,203.65 190.71,203.57 191.20,203.49 191.69,203.41 192.18,203.33 192.67,203.25 193.16,203.17 193.65,203.09 194.14,203.01 194.64,202.93 195.13,202.85 195.62,202.77 196.11,202.69 196.60,202.61 197.09,202.53 197.58,202.45 198.07,202.37 198.56,202.29 199.06,202.21 199.55,202.13 200.04,202.05 200.53,201.97 201.02,201.89 201.51,201.81 202.00,201.73 202.49,201.65 202.99,201.57 203.48,201.48 203.97,201.40 204.46,201.32 204.95,201.24 205.44,201.16 205.93,201.08 206.42,201.00 206.92,200.92 207.41,200.84 207.90,200.75 208.39,200.67 208.88,200.59 209.37,200.51 209.86,200.43 210.35,200.35 210.84,200.26 211.34,200.18 211.83,200.10 212.32,200.02 212.81,199.94 213.30,199.85 213.79,199.77 214.28,199.69 214.77,199.61 215.27,199.52 215.76,199.44 216.25,199.36 216.74,199.28 217.23,199.19 217.72,199.11 218.21,199.03 218.70,198.94 219.20,198.86 219.69,198.78 220.18,198.69 220.67,198.61 221.16,198.53 221.65,198.44 222.14,198.36 222.63,198.28 223.12,198.19 223.62,198.11 224.11,198.03 224.60,197.94 225.09,197.86 225.58,197.77 226.07,197.69 226.56,197.60 227.05,197.52 227.55,197.44 228.04,197.35 228.53,197.27 229.02,197.18 229.51,197.10 230.00,197.01 230.49,196.93 230.98,196.84 231.48,196.76 231.97,196.67 232.46,196.59 232.95,196.50 233.44,196.41 233.93,196.33 234.42,196.24 234.91,196.16 235.40,196.07 235.90,195.98 236.39,195.90 236.88,195.81 237.37,195.73 237.86,195.64 238.35,195.55 238.84,195.47 239.33,195.38 239.83,195.29 240.32,195.20 240.81,195.12 241.30,195.03 241.79,194.94 242.28,194.86 242.77,194.77 243.26,194.68 243.76,194.59 244.25,194.50 244.74,194.42 245.23,194.33 245.72,194.24 246.21,194.15 246.70,194.06 247.19,193.97 247.68,193.88 248.18,193.80 248.67,193.71 249.16,193.62 249.65,193.53 250.14,193.44 250.63,193.35 251.12,193.26 251.61,193.17 252.11,193.07 252.60,192.98 253.09,192.89 253.58,192.80 254.07,192.71 254.56,192.61 255.05,192.52 255.54,192.43 256.04,192.33 256.53,192.24 257.02,192.14 257.51,192.05 258.00,191.95 258.49,191.86 258.98,191.76 259.47,191.67 259.96,191.57 260.46,191.47 260.95,191.38 261.44,191.28 261.93,191.18 262.42,191.09 262.91,190.99 263.40,190.89 263.89,190.79 264.39,190.69 264.88,190.60 265.37,190.50 265.86,190.40 266.35,190.30 266.84,190.20 267.33,190.10 267.82,190.00 268.32,189.90 268.81,189.80 269.30,189.70 269.79,189.60 270.28,189.50 270.77,189.40 271.26,189.30 271.75,189.20 272.24,189.10 272.74,188.99 273.23,188.89 273.72,188.79 274.21,188.69 274.70,188.59 275.19,188.49 275.68,188.38 276.17,188.28 276.67,188.18 277.16,188.08 277.65,187.98 278.14,187.87 278.63,187.77 279.12,187.67 279.61,187.56 280.10,187.46 280.60,187.36 281.09,187.26 281.58,187.15 282.07,187.05 282.56,186.95 283.05,186.84 283.54,186.74 284.03,186.64 284.52,186.54 285.02,186.43 285.51,186.33 286.00,186.23 286.49,186.12 286.98,186.02 287.47,185.92 287.96,185.81 288.45,185.71 288.95,185.61 289.44,185.50 289.93,185.40 290.42,185.30 290.91,185.19 291.40,185.09 291.89,184.99 292.38,184.88 292.88,184.78 293.37,184.67 293.86,184.57 294.35,184.46 294.84,184.36 295.33,184.25 295.82,184.14 296.31,184.04 296.80,183.93 297.30,183.82 297.79,183.72 298.28,183.61 298.77,183.50 299.26,183.39 299.75,183.28 300.24,183.17 300.73,183.06 301.23,182.95 301.72,182.84 302.21,182.73 302.70,182.62 303.19,182.51 303.68,182.40 304.17,182.29 304.66,182.18 305.16,182.06 305.65,181.95 306.14,181.84 306.63,181.73 307.12,181.61 307.61,181.50 308.10,181.38 308.59,181.27 309.08,181.15 309.58,181.04 310.07,180.92 310.56,180.80 311.05,180.69 311.54,180.57 312.03,180.45 312.52,180.33 313.01,180.22 313.51,180.10 314.00,179.98 314.49,179.86 314.98,179.74 315.47,179.62 315.96,179.50 316.45,179.38 316.94,179.25 317.44,179.13 317.93,179.01 318.42,178.89 318.91,178.76 319.40,178.64 319.89,178.51 320.38,178.39 320.87,178.26 321.36,178.14 321.86,178.01 322.35,177.89 322.84,177.76 323.33,177.63 323.82,177.50 324.31,177.37 324.80,177.24 325.29,177.12 325.79,176.99 326.28,176.85 326.77,176.72 327.26,176.59 327.75,176.46 328.24,176.33 328.73,176.19 329.22,176.06 329.72,175.93 330.21,175.79 330.70,175.66 331.19,175.52 331.68,175.38 332.17,175.25 332.66,175.11 333.15,174.97 333.64,174.83 334.14,174.69 334.63,174.55 335.12,174.41 335.61,174.27 336.10,174.13 336.59,173.99 337.08,173.84 337.57,173.70 338.07,173.56 338.56,173.41 339.05,173.26 339.54,173.12 340.03,172.97 340.52,172.82 341.01,172.68 341.50,172.53 342.00,172.38 342.49,172.23 342.98,172.08 343.47,171.92 343.96,171.77 344.45,171.62 344.94,171.47 345.43,171.31 345.92,171.16 346.42,171.00 346.91,170.84 347.40,170.69 347.89,170.53 348.38,170.37 348.87,170.21 349.36,170.05 349.85,169.89 350.35,169.72 350.84,169.56 351.33,169.40 351.82,169.23 352.31,169.06 352.80,168.90 353.29,168.73 353.78,168.56 354.28,168.39 354.77,168.22 355.26,168.05 355.75,167.88 356.24,167.71 356.73,167.53 357.22,167.36 357.71,167.18 358.20,167.01 358.70,166.83 359.19,166.65 359.68,166.47 360.17,166.29 360.66,166.11 361.15,165.92 361.64,165.74 362.13,165.55 362.63,165.37 363.12,165.18 363.61,164.99 364.10,164.80 364.59,164.61 365.08,164.42 365.57,164.23 366.06,164.03 366.56,163.84 367.05,163.64 367.54,163.44 368.03,163.24 368.52,163.04 369.01,162.84 369.50,162.64 369.99,162.43 370.48,162.23 370.98,162.02 371.47,161.81 371.96,161.60 372.45,161.39 372.94,161.18 373.43,160.96 373.92,160.75 374.41,160.53 374.91,160.31 375.40,160.09 375.89,159.87 376.38,159.65 376.87,159.42 377.36,159.19 377.85,158.97 378.34,158.74 378.84,158.50 379.33,158.27 379.82,158.03 380.31,157.80 380.80,157.56 381.29,157.32 381.78,157.08 382.27,156.83 382.76,156.58 383.26,156.34 383.75,156.09 384.24,155.83 384.73,155.58 385.22,155.32 385.71,155.06 386.20,154.80 386.69,154.54 387.19,154.27 387.68,154.01 388.17,153.74 388.66,153.46 389.15,153.19 389.64,152.91 390.13,152.63 390.62,152.35 391.12,152.07 391.61,151.78 392.10,151.49 392.59,151.20 393.08,150.90 393.57,150.60 394.06,150.30 394.55,150.00 395.04,149.69 395.54,149.38 396.03,149.07 396.52,148.75 397.01,148.44 397.50,148.11 397.99,147.79 398.48,147.46 398.97,147.13 399.47,146.79 399.96,146.45 400.45,146.11 400.94,145.76 401.43,145.41 401.92,145.06 402.41,144.70 402.90,144.34 403.40,143.97 403.89,143.60 404.38,143.23 404.87,142.85 405.36,142.47 405.85,142.08 406.34,141.69 406.83,141.29 407.32,140.89 407.82,140.48 408.31,140.07 408.80,139.65 409.29,139.23 409.78,138.80 410.27,138.37 410.76,137.93 411.25,137.49 411.75,137.04 412.24,136.58 412.73,136.12 413.22,135.65 413.71,135.18 414.20,134.70 414.69,134.21 415.18,133.72 415.68,133.22 416.17,132.71 416.66,132.20 417.15,131.67 417.64,131.14 418.13,130.60 418.62,130.06 419.11,129.50 419.60,128.94 420.10,128.37 420.59,127.79 421.08,127.20 421.57,126.60 422.06,126.00 422.55,125.38 423.04,124.75 423.53,124.11 424.03,123.47 424.52,122.81 425.01,122.14 425.50,121.46 425.99,120.77 426.48,120.06 426.97,119.34 427.46,118.62 427.96,117.87 428.45,117.12 428.94,116.35 429.43,115.57 429.92,114.77 430.41,113.96 430.90,113.13 431.39,112.29 431.88,111.43 432.38,110.56 432.87,109.67 433.36,108.76 433.85,107.83 434.34,106.88 434.83,105.92 435.32,104.94 435.81,103.93 436.31,102.91 436.80,101.86 437.29,100.80 437.78,99.71 438.27,98.59 438.76,97.45 439.25,96.29 439.74,95.10 440.24,93.89 440.73,92.65 441.22,91.38 441.71,90.08 442.20,88.76 442.69,87.40 443.18,86.01 443.67,84.59 444.16,83.13 444.66,81.64 445.15,80.11 445.64,78.55 446.13,76.95 446.62,75.30 447.11,73.62 447.60,71.90 448.09,70.13 448.59,68.31 449.08,66.45 449.57,64.54 450.06,62.58 450.55,60.56 451.04,58.49 451.53,56.37 452.02,54.19 452.52,51.95 453.01,49.64 453.50,47.28 453.99,44.84 454.48,42.34 454.97,39.76 455.46,37.11" fill="none" stroke="none" marker-start="url(#mg)" marker-mid="url(#mg)" marker-end="url(#mg)"/>
<polyline points="12.40,236.07 12.89,236.76 13.38,237.05 13.87,236.94 14.36,236.83 14.86,236.72 15.35,236.61 15.84,236.50 16.33,236.39 16.82,236.28 17.31,236.16 17.80,236.05 18.29,235.94 18.79,235.83 19.28,235.72 19.77,235.62 20.26,235.51 20.75,235.40 21.24,235.29 21.73,235.19 22.22,235.08 22.72,234.98 23.21,234.87 23.70,234.77 24.19,234.67 24.68,234.56 25.17,234.46 25.66,234.36 26.15,234.26 26.64,234.16 27.14,234.06 27.63,233.96 28.12,233.86 28.61,233.77 29.10,233.67 29.59,233.57 30.08,233.47 30.57,233.37 31.07,233.28 31.56,233.18 32.05,233.08 32.54,232.99 33.03,232.89 33.52,232.79 34.01,232.70 34.50,232.60 35.00,232.51 35.49,232.41 35.98,232.31 36.47,232.22 36.96,232.12 37.45,232.02 37.94,231.93 38.43,231.83 38.92,231.73 39.42,231.64 39.91,231.54 40.40,231.44 40.89,231.34 41.38,231.24 41.87,231.14 42.36,231.04 42.85,230.94 43.35,230.84 43.84,230.74 44.33,230.64 44.82,230.54 45.31,230.44 45.80,230.34 46.29,230.23 46.78,230.13 47.28,230.03 47.77,229.93 48.26,229.83 48.75,229.72 49.24,229.62 49.73,229.52 50.22,229.42 50.71,229.32 51.20,229.22 51.70,229.12 52.19,229.02 52.68,228.91 53.17,228.81 53.66,228.71 54.15,228.61 54.64,228.51 55.13,228.41 55.63,228.31 56.12,228.21 56.61,228.11 57.10,228.01 57.59,227.91 58.08,227.81 58.57,227.71 59.06,227.61 59.56,227.51 60.05,227.41 60.54,227.31 61.03,227.21 61.52,227.11 62.01,227.01 62.50,226.92 62.99,226.82 63.48,226.72 63.98,226.62 64.47,226.52 64.96,226.42 65.45,226.32 65.94,226.22 66.43,226.12 66.92,226.03 67.41,225.93 67.91,225.83 68.40,225.73 68.89,225.63 69.38,225.54 69.87,225.44 70.36,225.34 70.85,225.24 71.34,225.15 71.84,225.05 72.33,224.95 72.82,224.85 73.31,224.76 73.80,224.66 74.29,224.56 74.78,224.46 75.27,224.37 75.76,224.27 76.26,224.17 76.75,224.08 77.24,223.98 77.73,223.88 78.22,223.79 78.71,223.69 79.20,223.59 79.69,223.50 80.19,223.40 80.68,223.31 81.17,223.21 81.66,223.11 82.15,223.02 82.64,222.92 83.13,222.83 83.62,222.73 84.12,222.64 84.61,222.54 85.10,222.45 85.59,222.35 86.08,222.26 86.57,222.16 87.06,222.07 87.55,221.97 88.04,221.88 88.54,221.78 89.03,221.69 89.52,221.59 90.01,221.50 90.50,221.41 90.99,221.31 91.48,221.22 91.97,221.13 92.47,221.03 92.96,220.94 93.45,220.85 93.94,220.75 94.43,220.66 94.92,220.57 95.41,220.47 95.90,220.38 96.40,220.29 96.89,220.20 97.38,220.11 97.87,220.01 98.36,219.92 98.85,219.83 99.34,219.74 99.83,219.65 100.32,219.55 100.82,219.46 101.31,219.37 101.80,219.28 102.29,219.19 102.78,219.10 103.27,219.01 103.76,218.92 104.25,218.83 104.75,218.74 105.24,218.65 105.73,218.55 106.22,218.46 106.71,218.37 107.20,218.28 107.69,218.20 108.18,218.11 108.68,218.02 109.17,217.93 109.66,217.84 110.15,217.75 110.64,217.66 111.13,217.57 111.62,217.48 112.11,217.39 112.60,217.30 113.10,217.21 113.59,217.13 114.08,217.04 114.57,216.95 115.06,216.86 115.55,216.77 116.04,216.69 116.53,216.60 117.03,216.51 117.52,216.42 118.01,216.33 118.50,216.25 118.99,216.16 119.48,216.07 119.97,215.99 120.46,215.90 120.96,215.81 121.45,215.73 121.94,215.64 122.43,215.55 122.92,215.47 123.41,215.38 123.90,215.29 124.39,215.21 124.88,215.12 125.38,215.04 125.87,214.95 126.36,214.86 126.85,214.78 127.34,214.69 127.83,214.61 128.32,214.52 128.81,214.44 129.31,214.35 129.80,214.27 130.29,214.19 130.78,214.10 131.27,214.02 131.76,213.93 132.25,213.85 132.74,213.77 133.24,213.68 133.73,213.60 134.22,213.52 134.71,213.43 135.20,213.35 135.69,213.27 136.18,213.18 136.67,213.10 137.16,213.02 137.66,212.94 138.15,212.85 138.64,212.77 139.13,212.69 139.62,212.61 140.11,212.53 140.60,212.44 141.09,212.36 141.59,212.28 142.08,212.20 142.57,212.12 143.06,212.04 143.55,211.96 144.04,211.88 144.53,211.80 145.02,211.72 145.52,211.63 146.01,211.55 146.50,211.47 146.99,211.39 147.48,211.31 147.97,211.23 148.46,211.15 148.95,211.07 149.44,210.99 149.94,210.92 150.43,210.84 150.92,210.76 151.41,210.68 151.90,210.60 152.39,210.52 152.88,210.44 153.37,210.36 153.87,210.28 154.36,210.20 154.85,210.12 155.34,210.05 155.83,209.97 156.32,209.89 156.81,209.81 157.30,209.73 157.80,209.65 158.29,209.58 158.78,209.50 159.27,209.42 159.76,209.34 160.25,209.27 160.74,209.19 161.23,209.11 161.72,209.03 162.22,208.95 162.71,208.88 163.20,208.80 163.69,208.72 164.18,208.65 164.67,208.57 165.16,208.49 165.65,208.41 166.15,208.34 166.64,208.26 167.13,208.18 167.62,208.11 168.11,208.03 168.60,207.95 169.09,207.88 169.58,207.80 170.08,207.73 170.57,207.65 171.06,207.58 171.55,207.50 172.04,207.42 172.53,207.35 173.02,207.27 173.51,207.20 174.00,207.12 174.50,207.05 174.99,206.98 175.48,206.90 175.97,206.83 176.46,206.75 176.95,206.68 177.44,206.60 177.93,206.53 178.43,206.46 178.92,206.38 179.41,206.31 179.90,206.23 180.39,206.16 180.88,206.09 181.37,206.01 181.86,205.94 182.36,205.87 182.85,205.79 183.34,205.72 183.83,205.64 184.32,205.57 184.81,205.50 185.30,205.43 185.79,205.35 186.28,205.28 186.78,205.21 187.27,205.13 187.76,205.06 188.25,204.99 188.74,204.91 189.23,204.84 189.72,204.77 190.21,204.69 190.71,204.62 191.20,204.55 191.69,204.47 192.18,204.40 192.67,204.33 193.16,204.25 193.65,204.18 194.14,204.11 194.64,204.04 195.13,203.96 195.62,203.89 196.11,203.82 196.60,203.74 197.09,203.67 197.58,203.60 198.07,203.52 198.56,203.45 199.06,203.37 199.55,203.30 200.04,203.23 200.53,203.15 201.02,203.08 201.51,203.00 202.00,202.93 202.49,202.86 202.99,202.78 203.48,202.71 203.97,202.63 204.46,202.56 204.95,202.48 205.44,202.41 205.93,202.34 206.42,202.26 206.92,202.19 207.41,202.11 207.90,202.03 208.39,201.96 208.88,201.88 209.37,201.81 209.86,201.73 210.35,201.66 210.84,201.58 211.34,201.50 211.83,201.42 212.32,201.35 212.81,201.27 213.30,201.19 213.79,201.12 214.28,201.04 214.77,200.96 215.27,200.88 215.76,200.80 216.25,200.72 216.74,200.64 217.23,200.57 217.72,200.49 218.21,200.41 218.70,200.33 219.20,200.25 219.69,200.17 220.18,200.09 220.67,200.01 221.16,199.93 221.65,199.85 222.14,199.77 222.63,199.69 223.12,199.61 223.62,199.52 224.11,199.44 224.60,199.36 225.09,199.28 225.58,199.20 226.07,199.12 226.56,199.04 227.05,198.95 227.55,198.87 228.04,198.79 228.53,198.71 229.02,198.63 229.51,198.54 230.00,198.46 230.49,198.38 230.98,198.30 231.48,198.21 231.97,198.13 232.46,198.05 232.95,197.97 233.44,197.88 233.93,197.80 234.42,197.72 234.91,197.63 235.40,197.55 235.90,197.47 236.39,197.38 236.88,197.30 237.37,197.22 237.86,197.13 238.35,197.05 238.84,196.97 239.33,196.88 239.83,196.80 240.32,196.72 240.81,196.63 241.30,196.55 241.79,196.46 242.28,196.38 242.77,196.30 243.26,196.21 243.76,196.13 244.25,196.05 244.74,195.96 245.23,195.88 245.72,195.79 246.21,195.71 246.70,195.63 247.19,195.54 247.68,195.46 248.18,195.38 248.67,195.29 249.16,195.21 249.65,195.12 250.14,195.04 250.63,194.96 251.12,194.87 251.61,194.79 252.11,194.70 252.60,194.62 253.09,194.53 253.58,194.45 254.07,194.36 254.56,194.28 255.05,194.19 255.54,194.10 256.04,194.02 256.53,193.93 257.02,193.84 257.51,193.76 258.00,193.67 258.49,193.58 258.98,193.50 259.47,193.41 259.96,193.32 260.46,193.23 260.95,193.15 261.44,193.06 261.93,192.97 262.42,192.88 262.91,192.79 263.40,192.70 263.89,192.62 264.39,192.53 264.88,192.44 265.37,192.35 265.86,192.26 266.35,192.17 266.84,192.08 267.33,191.99 267.82,191.90 268.32,191.81 268.81,191.72 269.30,191.63 269.79,191.54 270.28,191.45 270.77,191.36 271.26,191.27 271.75,191.18 272.24,191.09 272.74,191.00 273.23,190.91 273.72,190.82 274.21,190.73 274.70,190.64 275.19,190.55 275.68,190.46 276.17,190.37 276.67,190.27 277.16,190.18 277.65,190.09 278.14,190.00 278.63,189.91 279.12,189.82 279.61,189.73 280.10,189.64 280.60,189.54 281.09,189.45 281.58,189.36 282.07,189.27 282.56,189.18 283.05,189.09 283.54,188.99 284.03,188.90 284.52,188.81 285.02,188.72 285.51,188.63 286.00,188.54 286.49,188.44 286.98,188.35 287.47,188.26 287.96,188.17 288.45,188.08 288.95,187.98 289.44,187.89 289.93,187.80 290.42,187.71 290.91,187.62 291.40,187.52 291.89,187.43 292.38,187.34 292.88,187.24 293.37,187.15 293.86,187.06 294.35,186.96 294.84,186.87 295.33,186.77 295.82,186.68 296.31,186.58 296.80,186.49 297.30,186.39 297.79,186.30 298.28,186.20 298.77,186.11 299.26,186.01 299.75,185.91 300.24,185.82 300.73,185.72 301.23,185.62 301.72,185.52 302.21,185.42 302.70,185.33 303.19,185.23 303.68,185.13 304.17,185.03 304.66,184.93 305.16,184.83 305.65,184.73 306.14,184.63 306.63,184.53 307.12,184.43 307.61,184.32 308.10,184.22 308.59,184.12 309.08,184.02 309.58,183.92 310.07,183.81 310.56,183.71 311.05,183.60 311.54,183.50 312.03,183.40 312.52,183.29 313.01,183.19 313.51,183.08 314.00,182.97 314.49,182.87 314.98,182.76 315.47,182.65 315.96,182.55 316.45,182.44 316.94,182.33 317.44,182.22 317.93,182.11 318.42,182.01 318.91,181.90 319.40,181.79 319.89,181.68 320.38,181.57 320.87,181.45 321.36,181.34 321.86,181.23 322.35,181.12 322.84,181.01 323.33,180.89 323.82,180.78 324.31,180.66 324.80,180.55 325.29,180.44 325.79,180.32 326.28,180.20 326.77,180.09 327.26,179.97 327.75,179.85 328.24,179.74 328.73,179.62 329.22,179.50 329.72,179.38 330.21,179.26 330.70,179.14 331.19,179.02 331.68,178.90 332.17,178.78 332.66,178.66 333.15,178.54 333.64,178.41 334.14,178.29 334.63,178.17 335.12,178.04 335.61,177.92 336.10,177.79 336.59,177.67 337.08,177.54 337.57,177.41 338.07,177.29 338.56,177.16 339.05,177.03 339.54,176.90 340.03,176.77 340.52,176.64 341.01,176.51 341.50,176.38 342.00,176.25 342.49,176.11 342.98,175.98 343.47,175.85 343.96,175.71 344.45,175.58 344.94,175.44 345.43,175.31 345.92,175.17 346.42,175.03 346.91,174.89 347.40,174.76 347.89,174.62 348.38,174.48 348.87,174.34 349.36,174.19 349.85,174.05 350.35,173.91 350.84,173.77 351.33,173.62 351.82,173.48 352.31,173.33 352.80,173.18 353.29,173.04 353.78,172.89 354.28,172.74 354.77,172.59 355.26,172.44 355.75,172.29 356.24,172.14 356.73,171.99 357.22,171.83 357.71,171.68 358.20,171.52 358.70,171.37 359.19,171.21 359.68,171.05 360.17,170.90 360.66,170.74 361.15,170.58 361.64,170.42 362.13,170.25 362.63,170.09 363.12,169.93 363.61,169.76 364.10,169.60 364.59,169.43 365.08,169.26 365.57,169.09 366.06,168.93 366.56,168.75 367.05,168.58 367.54,168.41 368.03,168.24 368.52,168.06 369.01,167.89 369.50,167.71 369.99,167.53 370.48,167.35 370.98,167.17 371.47,166.99 371.96,166.81 372.45,166.63 372.94,166.44 373.43,166.26 373.92,166.07 374.41,165.88 374.91,165.69 375.40,165.50 375.89,165.31 376.38,165.11 376.87,164.92 377.36,164.72 377.85,164.53 378.34,164.33 378.84,164.13 379.33,163.92 379.82,163.72 380.31,163.52 380.80,163.31 381.29,163.10 381.78,162.89 382.27,162.68 382.76,162.47 383.26,162.26 383.75,162.04 384.24,161.82 384.73,161.60 385.22,161.38 385.71,161.16 386.20,160.94 386.69,160.71 387.19,160.48 387.68,160.26 388.17,160.02 388.66,159.79 389.15,159.56 389.64,159.32 390.13,159.08 390.62,158.84 391.12,158.59 391.61,158.35 392.10,158.10 392.59,157.85 393.08,157.60 393.57,157.35 394.06,157.09 394.55,156.83 395.04,156.57 395.54,156.31 396.03,156.04 396.52,155.77 397.01,155.50 397.50,155.23 397.99,154.95 398.48,154.67 398.97,154.39 399.47,154.10 399.96,153.82 400.45,153.53 400.94,153.23 401.43,152.94 401.92,152.64 402.41,152.33 402.90,152.03 403.40,151.72 403.89,151.41 404.38,151.09 404.87,150.77 405.36,150.45 405.85,150.12 406.34,149.79 406.83,149.46 407.32,149.12 407.82,148.77 408.31,148.43 408.80,148.08 409.29,147.72 409.78,147.36 410.27,147.00 410.76,146.63 411.25,146.26 411.75,145.88 412.24,145.50 412.73,145.12 413.22,144.72 413.71,144.33 414.20,143.92 414.69,143.52 415.18,143.10 415.68,142.68 416.17,142.26 416.66,141.83 417.15,141.39 417.64,140.95 418.13,140.50 418.62,140.04 419.11,139.58 419.60,139.11 420.10,138.63 420.59,138.15 421.08,137.66 421.57,137.16 422.06,136.65 422.55,136.14 423.04,135.61 423.53,135.08 424.03,134.54 424.52,133.99 425.01,133.44 425.50,132.87 425.99,132.29 426.48,131.70 426.97,131.11 427.46,130.50 427.96,129.88 428.45,129.25 428.94,128.61 429.43,127.96 429.92,127.29 430.41,126.62 430.90,125.93 431.39,125.22 431.88,124.51 432.38,123.78 432.87,123.03 433.36,122.27 433.85,121.50 434.34,120.71 434.83,119.90 435.32,119.08 435.81,118.24 436.31,117.38 436.80,116.51 437.29,115.61 437.78,114.70 438.27,113.76 438.76,112.81 439.25,111.83 439.74,110.83 440.24,109.81 440.73,108.77 441.22,107.70 441.71,106.61 442.20,105.49 442.69,104.34 443.18,103.17 443.67,101.96 444.16,100.73 444.66,99.47 445.15,98.17 445.64,96.84 446.13,95.48 446.62,94.08 447.11,92.65 447.60,91.18 448.09,89.67 448.59,88.12 449.08,86.52 449.57,84.88 450.06,83.20 450.55,81.47 451.04,79.69 451.53,77.86 452.02,75.98 452.52,74.04 453.01,72.04 453.50,69.99 453.99,67.87 454.48,65.69 454.97,63.44 455.46,61.13 455.95,58.74 456.44,56.27 456.94,53.73 457.43,51.11 457.92,48.40 458.41,45.60 458.90,42.71 459.39,39.72 459.88,36.64" fill="none" stroke="none" marker-start="url(#mr)" marker-mid="url(#mr)" marker-end="url(#mr)"/>
<polyline points="12.40,237.22 12.89,237.71 13.38,237.59 13.87,237.47 14.36,237.35 14.86,237.24 15.35,237.12 15.84,237.00 16.33,236.89 16.82,236.77 17.31,236.65 17.80,236.54 18.29,236.42 18.79,236.30 19.28,236.19 19.77,236.07 20.26,235.96 20.75,235.85 21.24,235.74 21.73,235.63 22.22,235.52 22.72,235.41 23.21,235.30 23.70,235.19 24.19,235.09 24.68,234.98 25.17,234.88 25.66,234.77 26.15,234.67 26.64,234.57 27.14,234.46 27.63,234.36 28.12,234.26 28.61,234.16 29.10,234.06 29.59,233.96 30.08,233.86 30.57,233.76 31.07,233.66 31.56,233.56 32.05,233.47 32.54,233.37 33.03,233.27 33.52,233.17 34.01,233.07 34.50,232.98 35.00,232.88 35.49,232.78 35.98,232.68 36.47,232.59 36.96,232.49 37.45,232.39 37.94,232.29 38.43,232.19 38.92,232.09 39.42,231.99 39.91,231.89 40.40,231.79 40.89,231.69 41.38,231.59 41.87,231.49 42.36,231.39 42.85,231.29 43.35,231.19 43.84,231.08 44.33,230.98 44.82,230.87 45.31,230.77 45.80,230.66 46.29,230.56 46.78,230.45 47.28,230.35 47.77,230.24 48.26,230.14 48.75,230.03 49.24,229.93 49.73,229.83 50.22,229.72 50.71,229.62 51.20,229.51 51.70,229.41 52.19,229.30 52.68,229.20 53.17,229.10 53.66,228.99 54.15,228.89 54.64,228.79 55.13,228.68 55.63,228.58 56.12,228.48 56.61,228.37 57.10,228.27 57.59,228.17 58.08,228.07 58.57,227.96 59.06,227.86 59.56,227.76 60.05,227.66 60.54,227.56 61.03,227.45 61.52,227.35 62.01,227.25 62.50,227.15 62.99,227.05 63.48,226.95 63.98,226.85 64.47,226.75 64.96,226.65 65.45,226.55 65.94,226.45 66.43,226.35 66.92,226.25 67.41,226.15 67.91,226.05 68.40,225.95 68.89,225.85 69.38,225.75 69.87,225.65 70.36,225.55 70.85,225.45 71.34,225.36 71.84,225.26 72.33,225.16 72.82,225.06 73.31,224.96 73.80,224.87 74.29,224.77 74.78,224.67 75.27,224.57 75.76,224.48 76.26,224.38 76.75,224.28 77.24,224.19 77.73,224.09 78.22,224.00 78.71,223.90 79.20,223.81 79.69,223.71 80.19,223.61 80.68,223.52 81.17,223.43 81.66,223.33 82.15,223.24 82.64,223.14 83.13,223.05 83.62,222.95 84.12,222.86 84.61,222.77 85.10,222.67 85.59,222.58 86.08,222.49 86.57,222.40 87.06,222.31 87.55,222.21 88.04,222.12 88.54,222.03 89.03,221.94 89.52,221.85 90.01,221.76 90.50,221.67 90.99,221.58 91.48,221.49 91.97,221.40 92.47,221.31 92.96,221.22 93.45,221.13 93.94,221.04 94.43,220.95 94.92,220.86 95.41,220.77 95.90,220.68 96.40,220.60 96.89,220.51 97.38,220.42 97.87,220.33 98.36,220.24 98.85,220.16 99.34,220.07 99.83,219.98 100.32,219.89 100.82,219.81 101.31,219.72 101.80,219.63 102.29,219.55 102.78,219.46 103.27,219.38 103.76,219.29 104.25,219.20 104.75,219.12 105.24,219.03 105.73,218.95 106.22,218.86 106.71,218.78 107.20,218.69 107.69,218.61 108.18,218.52 108.68,218.44 109.17,218.35 109.66,218.27 110.15,218.18 110.64,218.10 111.13,218.01 111.62,217.93 112.11,217.84 112.60,217.76 113.10,217.68 113.59,217.59 114.08,217.51 114.57,217.42 115.06,217.34 115.55,217.26 116.04,217.17 116.53,217.09 117.03,217.01 117.52,216.92 118.01,216.84 118.50,216.76 118.99,216.67 119.48,216.59 119.97,216.51 120.46,216.42 120.96,216.34 121.45,216.26 121.94,216.17 122.43,216.09 122.92,216.01 123.41,215.92 123.90,215.84 124.39,215.76 124.88,215.67 125.38,215.59 125.87,215.51 126.36,215.43 126.85,215.34 127.34,215.26 127.83,215.18 128.32,215.10 128.81,215.01 129.31,214.93 129.80,214.85 130.29,214.77 130.78,214.68 131.27,214.60 131.76,214.52 132.25,214.44 132.74,214.36 133.24,214.28 133.73,214.19 134.22,214.11 134.71,214.03 135.20,213.95 135.69,213.87 136.18,213.79 136.67,213.71 137.16,213.63 137.66,213.54 138.15,213.46 138.64,213.38 139.13,213.30 139.62,213.22 140.11,213.14 140.60,213.06 141.09,212.98 141.59,212.90 142.08,212.82 142.57,212.74 143.06,212.66 143.55,212.58 144.04,212.50 144.53,212.42 145.02,212.34 145.52,212.26 146.01,212.18 146.50,212.11 146.99,212.03 147.48,211.95 147.97,211.87 148.46,211.79 148.95,211.71 149.44,211.63 149.94,211.55 150.43,211.48 150.92,211.40 151.41,211.32 151.90,211.24 152.39,211.16 152.88,211.08 153.37,211.01 153.87,210.93 154.36,210.85 154.85,210.77 155.34,210.70 155.83,210.62 156.32,210.54 156.81,210.46 157.30,210.39 157.80,210.31 158.29,210.23 158.78,210.16 159.27,210.08 159.76,210.00 160.25,209.93 160.74,209.85 161.23,209.77 161.72,209.70 162.22,209.62 162.71,209.55 163.20,209.47 163.69,209.39 164.18,209.32 164.67,209.24 165.16,209.17 165.65,209.09 166.15,209.02 166.64,208.94 167.13,208.86 167.62,208.79 168.11,208.71 168.60,208.64 169.09,208.56 169.58,208.49 170.08,208.42 170.57,208.34 171.06,208.27 171.55,208.19 172.04,208.12 172.53,208.04 173.02,207.97 173.51,207.89 174.00,207.82 174.50,207.74 174.99,207.67 175.48,207.60 175.97,207.52 176.46,207.45 176.95,207.37 177.44,207.30 177.93,207.23 178.43,207.15 178.92,207.08 179.41,207.01 179.90,206.93 180.39,206.86 180.88,206.78 181.37,206.71 181.86,206.64 182.36,206.56 182.85,206.49 183.34,206.42 183.83,206.34 184.32,206.27 184.81,206.20 185.30,206.12 185.79,206.05 186.28,205.98 186.78,205.90 187.27,205.83 187.76,205.76 188.25,205.69 188.74,205.61 189.23,205.54 189.72,205.47 190.21,205.39 190.71,205.32 191.20,205.25 191.69,205.17 192.18,205.10 192.67,205.03 193.16,204.96 193.65,204.88 194.14,204.81 194.64,204.74 195.13,204.67 195.62,204.59 196.11,204.52 196.60,204.45 197.09,204.37 197.58,204.30 198.07,204.23 198.56,204.16 199.06,204.08 199.55,204.01 200.04,203.94 200.53,203.87 201.02,203.79 201.51,203.72 202.00,203.65 202.49,203.57 202.99,203.50 203.48,203.43 203.97,203.36 204.46,203.28 204.95,203.21 205.44,203.14 205.93,203.07 206.42,202.99 206.92,202.92 207.41,202.85 207.90,202.77 208.39,202.70 208.88,202.63 209.37,202.56 209.86,202.48 210.35,202.41 210.84,202.33 211.34,202.26 211.83,202.19 212.32,202.11 212.81,202.04 213.30,201.96 213.79,201.89 214.28,201.81 214.77,201.73 215.27,201.66 215.76,201.58 216.25,201.51 216.74,201.43 217.23,201.35 217.72,201.28 218.21,201.20 218.70,201.12 219.20,201.05 219.69,200.97 220.18,200.89 220.67,200.82 221.16,200.74 221.65,200.66 222.14,200.58 222.63,200.51 223.12,200.43 223.62,200.35 224.11,200.27 224.60,200.19 225.09,200.12 225.58,200.04 226.07,199.96 226.56,199.88 227.05,199.80 227.55,199.73 228.04,199.65 228.53,199.57 229.02,199.49 229.51,199.41 230.00,199.34 230.49,199.26 230.98,199.18 231.48,199.10 231.97,199.03 232.46,198.95 232.95,198.87 233.44,198.79 233.93,198.71 234.42,198.64 234.91,198.56 235.40,198.48 235.90,198.41 236.39,198.33 236.88,198.25 237.37,198.17 237.86,198.10 238.35,198.02 238.84,197.94 239.33,197.87 239.83,197.79 240.32,197.72 240.81,197.64 241.30,197.56 241.79,197.49 242.28,197.41 242.77,197.34 243.26,197.26 243.76,197.19 244.25,197.11 244.74,197.04 245.23,196.96 245.72,196.89 246.21,196.82 246.70,196.74 247.19,196.67 247.68,196.60 248.18,196.52 248.67,196.45 249.16,196.38 249.65,196.31 250.14,196.23 250.63,196.16 251.12,196.09 251.61,196.02 252.11,195.94 252.60,195.87 253.09,195.80 253.58,195.72 254.07,195.65 254.56,195.58 255.05,195.50 255.54,195.43 256.04,195.36 256.53,195.28 257.02,195.21 257.51,195.13 258.00,195.06 258.49,194.99 258.98,194.91 259.47,194.84 259.96,194.76 260.46,194.69 260.95,194.61 261.44,194.54 261.93,194.46 262.42,194.39 262.91,194.31 263.40,194.24 263.89,194.16 264.39,194.09 264.88,194.01 265.37,193.93 265.86,193.86 266.35,193.78 266.84,193.71 267.33,193.63 267.82,193.55 268.32,193.48 268.81,193.40 269.30,193.32 269.79,193.25 270.28,193.17 270.77,193.09 271.26,193.01 271.75,192.93 272.24,192.86 272.74,192.78 273.23,192.70 273.72,192.62 274.21,192.54 274.70,192.46 275.19,192.39 275.68,192.31 276.17,192.23 276.67,192.15 277.16,192.07 277.65,191.99 278.14,191.91 278.63,191.83 279.12,191.75 279.61,191.67 280.10,191.59 280.60,191.51 281.09,191.42 281.58,191.34 282.07,191.26 282.56,191.18 283.05,191.10 283.54,191.02 284.03,190.93 284.52,190.85 285.02,190.77 285.51,190.69 286.00,190.60 286.49,190.52 286.98,190.44 287.47,190.35 287.96,190.27 288.45,190.19 288.95,190.10 289.44,190.02 289.93,189.93 290.42,189.85 290.91,189.76 291.40,189.68 291.89,189.59 292.38,189.51 292.88,189.42 293.37,189.33 293.86,189.25 294.35,189.16 294.84,189.07 295.33,188.99 295.82,188.90 296.31,188.81 296.80,188.72 297.30,188.63 297.79,188.55 298.28,188.46 298.77,188.37 299.26,188.28 299.75,188.19 300.24,188.10 300.73,188.01 301.23,187.92 301.72,187.83 302.21,187.74 302.70,187.65 303.19,187.55 303.68,187.46 304.17,187.37 304.66,187.28 305.16,187.19 305.65,187.09 306.14,187.00 306.63,186.91 307.12,186.81 307.61,186.72 308.10,186.62 308.59,186.53 309.08,186.44 309.58,186.34 310.07,186.24 310.56,186.15 311.05,186.05 311.54,185.96 312.03,185.86 312.52,185.76 313.01,185.67 313.51,185.57 314.00,185.47 314.49,185.37 314.98,185.27 315.47,185.17 315.96,185.07 316.45,184.97 316.94,184.87 317.44,184.77 317.93,184.67 318.42,184.57 318.91,184.47 319.40,184.37 319.89,184.27 320.38,184.16 320.87,184.06 321.36,183.96 321.86,183.85 322.35,183.75 322.84,183.65 323.33,183.54 323.82,183.44 324.31,183.33 324.80,183.22 325.29,183.12 325.79,183.01 326.28,182.90 326.77,182.80 327.26,182.69 327.75,182.58 328.24,182.47 328.73,182.36 329.22,182.25 329.72,182.14 330.21,182.03 330.70,181.92 331.19,181.81 331.68,181.70 332.17,181.59 332.66,181.47 333.15,181.36 333.64,181.25 334.14,181.13 334.63,181.02 335.12,180.90 335.61,180.79 336.10,180.67 336.59,180.56 337.08,180.44 337.57,180.32 338.07,180.20 338.56,180.09 339.05,179.97 339.54,179.85 340.03,179.73 340.52,179.61 341.01,179.49 341.50,179.37 342.00,179.24 342.49,179.12 342.98,179.00 343.47,178.87 343.96,178.75 344.45,178.63 344.94,178.50 345.43,178.38 345.92,178.25 346.42,178.12 346.91,178.00 347.40,177.87 347.89,177.74 348.38,177.61 348.87,177.48 349.36,177.35 349.85,177.22 350.35,177.09 350.84,176.96 351.33,176.82 351.82,176.69 352.31,176.56 352.80,176.42 353.29,176.29 353.78,176.15 354.28,176.02 354.77,175.88 355.26,175.74 355.75,175.60 356.24,175.46 356.73,175.32 357.22,175.18 357.71,175.04 358.20,174.90 358.70,174.76 359.19,174.62 359.68,174.47 360.17,174.33 360.66,174.18 361.15,174.04 361.64,173.89 362.13,173.74 362.63,173.59 363.12,173.44 363.61,173.29 364.10,173.14 364.59,172.99 365.08,172.84 365.57,172.69 366.06,172.53 366.56,172.38 367.05,172.22 367.54,172.07 368.03,171.91 368.52,171.75 369.01,171.59 369.50,171.43 369.99,171.27 370.48,171.11 370.98,170.94 371.47,170.78 371.96,170.62 372.45,170.45 372.94,170.28 373.43,170.12 373.92,169.95 374.41,169.78 374.91,169.61 375.40,169.44 375.89,169.26 376.38,169.09 376.87,168.91 377.36,168.74 377.85,168.56 378.34,168.38 378.84,168.20 379.33,168.02 379.82,167.84 380.31,167.66 380.80,167.48 381.29,167.29 381.78,167.10 382.27,166.92 382.76,166.73 383.26,166.54 383.75,166.35 384.24,166.15 384.73,165.96 385.22,165.76 385.71,165.57 386.20,165.37 386.69,165.17 387.19,164.97 387.68,164.76 388.17,164.56 388.66,164.35 389.15,164.15 389.64,163.94 390.13,163.73 390.62,163.51 391.12,163.30 391.61,163.09 392.10,162.87 392.59,162.65 393.08,162.43 393.57,162.21 394.06,161.98 394.55,161.76 395.04,161.53 395.54,161.30 396.03,161.07 396.52,160.83 397.01,160.60 397.50,160.36 397.99,160.12 398.48,159.88 398.97,159.63 399.47,159.39 399.96,159.14 400.45,158.89 400.94,158.63 401.43,158.38 401.92,158.12 402.41,157.86 402.90,157.60 403.40,157.33 403.89,157.06 404.38,156.79 404.87,156.52 405.36,156.24 405.85,155.96 406.34,155.68 406.83,155.39 407.32,155.11 407.82,154.81 408.31,154.52 408.80,154.22 409.29,153.92 409.78,153.61 410.27,153.31 410.76,152.99 411.25,152.68 411.75,152.36 412.24,152.04 412.73,151.71 413.22,151.38 413.71,151.04 414.20,150.70 414.69,150.36 415.18,150.01 415.68,149.66 416.17,149.30 416.66,148.94 417.15,148.57 417.64,148.20 418.13,147.82 418.62,147.44 419.11,147.05 419.60,146.66 420.10,146.26 420.59,145.85 421.08,145.44 421.57,145.02 422.06,144.60 422.55,144.17 423.04,143.73 423.53,143.29 424.03,142.84 424.52,142.38 425.01,141.91 425.50,141.44 425.99,140.96 426.48,140.47 426.97,139.97 427.46,139.46 427.96,138.95 428.45,138.42 428.94,137.89 429.43,137.34 429.92,136.79 430.41,136.22 430.90,135.65 431.39,135.06 431.88,134.46 432.38,133.85 432.87,133.23 433.36,132.60 433.85,131.95 434.34,131.29 434.83,130.61 435.32,129.92 435.81,129.22 436.31,128.50 436.80,127.76 437.29,127.01 437.78,126.24 438.27,125.45 438.76,124.65 439.25,123.82 439.74,122.98 440.24,122.11 440.73,121.23 441.22,120.32 441.71,119.39 442.20,118.44 442.69,117.46 443.18,116.46 443.67,115.43 444.16,114.37 444.66,113.28 445.15,112.17 445.64,111.02 446.13,109.85 446.62,108.63 447.11,107.39 447.60,106.11 448.09,104.79 448.59,103.43 449.08,102.03 449.57,100.59 450.06,99.11 450.55,97.57 451.04,96.00 451.53,94.37 452.02,92.68 452.52,90.95 453.01,89.15 453.50,87.30 453.99,85.39 454.48,83.41 454.97,81.36 455.46,79.24 455.95,77.04 456.44,74.77 456.94,72.41 457.43,69.97 457.92,67.44 458.41,64.81 458.90,62.09 459.39,59.26 459.88,56.32 460.37,53.27 460.87,50.09 461.36,46.79 461.85,43.36 462.34,39.78 462.83,36.06" fill="none" stroke="none" marker-start="url(#mp)" marker-mid="url(#mp)" marker-end="url(#mp)"/>
<polyline points="12.40,238.98 12.89,238.56 13.38,238.14 13.87,238.03 14.36,237.91 14.86,237.80 15.35,237.68 15.84,237.57 16.33,237.45 16.82,237.34 17.31,237.23 17.80,237.11 18.29,237.00 18.79,236.89 19.28,236.77 19.77,236.66 20.26,236.55 20.75,236.43 21.24,236.32 21.73,236.21 22.22,236.10 22.72,235.98 23.21,235.87 23.70,235.76 24.19,235.65 24.68,235.54 25.17,235.42 25.66,235.31 26.15,235.20 26.64,235.09 27.14,234.98 27.63,234.86 28.12,234.75 28.61,234.64 29.10,234.53 29.59,234.42 30.08,234.31 30.57,234.20 31.07,234.09 31.56,233.98 32.05,233.87 32.54,233.75 33.03,233.64 33.52,233.53 34.01,233.42 34.50,233.32 35.00,233.21 35.49,233.10 35.98,232.99 36.47,232.88 36.96,232.77 37.45,232.66 37.94,232.55 38.43,232.45 38.92,232.34 39.42,232.23 39.91,232.12 40.40,232.02 40.89,231.91 41.38,231.80 41.87,231.70 42.36,231.59 42.85,231.48 43.35,231.38 43.84,231.27 44.33,231.17 44.82,231.06 45.31,230.96 45.80,230.86 46.29,230.75 46.78,230.65 47.28,230.55 47.77,230.44 48.26,230.34 48.75,230.23 49.24,230.13 49.73,230.03 50.22,229.93 50.71,229.82 51.20,229.72 51.70,229.62 52.19,229.52 52.68,229.41 53.17,229.31 53.66,229.21 54.15,229.11 54.64,229.01 55.13,228.91 55.63,228.80 56.12,228.70 56.61,228.60 57.10,228.50 57.59,228.40 58.08,228.30 58.57,228.20 59.06,228.10 59.56,228.00 60.05,227.90 60.54,227.80 61.03,227.70 61.52,227.60 62.01,227.50 62.50,227.40 62.99,227.30 63.48,227.20 63.98,227.10 64.47,227.00 64.96,226.90 65.45,226.80 65.94,226.70 66.43,226.61 66.92,226.51 67.41,226.41 67.91,226.31 68.40,226.21 68.89,226.11 69.38,226.02 69.87,225.92 70.36,225.82 70.85,225.72 71.34,225.62 71.84,225.53 72.33,225.43 72.82,225.33 73.31,225.23 73.80,225.14 74.29,225.04 74.78,224.94 75.27,224.85 75.76,224.75 76.26,224.65 76.75,224.56 77.24,224.46 77.73,224.36 78.22,224.27 78.71,224.17 79.20,224.08 79.69,223.98 80.19,223.88 80.68,223.79 81.17,223.69 81.66,223.60 82.15,223.50 82.64,223.41 83.13,223.31 83.62,223.22 84.12,223.12 84.61,223.03 85.10,222.93 85.59,222.84 86.08,222.74 86.57,222.65 87.06,222.55 87.55,222.46 88.04,222.37 88.54,222.27 89.03,222.18 89.52,222.08 90.01,221.99 90.50,221.90 90.99,221.80 91.48,221.71 91.97,221.62 92.47,221.53 92.96,221.43 93.45,221.34 93.94,221.25 94.43,221.16 94.92,221.07 95.41,220.97 95.90,220.88 96.40,220.79 96.89,220.70 97.38,220.61 97.87,220.52 98.36,220.43 98.85,220.33 99.34,220.24 99.83,220.15 100.32,220.06 100.82,219.97 101.31,219.88 101.80,219.79 102.29,219.70 102.78,219.61 103.27,219.52 103.76,219.43 104.25,219.34 104.75,219.25 105.24,219.17 105.73,219.08 106.22,218.99 106.71,218.90 107.20,218.81 107.69,218.72 108.18,218.63 108.68,218.55 109.17,218.46 109.66,218.37 110.15,218.28 110.64,218.19 111.13,218.11 111.62,218.02 112.11,217.93 112.60,217.84 113.10,217.76 113.59,217.67 114.08,217.58 114.57,217.50 115.06,217.41 115.55,217.32 116.04,217.24 116.53,217.15 117.03,217.06 117.52,216.98 118.01,216.89 118.50,216.81 118.99,216.72 119.48,216.64 119.97,216.55 120.46,216.46 120.96,216.38 121.45,216.29 121.94,216.21 122.43,216.12 122.92,216.04 123.41,215.96 123.90,215.87 124.39,215.79 124.88,215.70 125.38,215.62 125.87,215.53 126.36,215.45 126.85,215.37 127.34,215.28 127.83,215.20 128.32,215.11 128.81,215.03 129.31,214.95 129.80,214.86 130.29,214.78 130.78,214.70 131.27,214.61 131.76,214.53 132.25,214.45 132.74,214.37 133.24,214.28 133.73,214.20 134.22,214.12 134.71,214.04 135.20,213.95 135.69,213.87 136.18,213.79 136.67,213.71 137.16,213.63 137.66,213.55 138.15,213.46 138.64,213.38 139.13,213.30 139.62,213.22 140.11,213.14 140.60,213.06 141.09,212.98 141.59,212.90 142.08,212.82 142.57,212.74 143.06,212.66 143.55,212.58 144.04,212.50 144.53,212.42 145.02,212.34 145.52,212.27 146.01,212.19 146.50,212.11 146.99,212.03 147.48,211.95 147.97,211.87 148.46,211.80 148.95,211.72 149.44,211.64 149.94,211.56 150.43,211.49 150.92,211.41 151.41,211.33 151.90,211.26 152.39,211.18 152.88,211.11 153.37,211.03 153.87,210.96 154.36,210.88 154.85,210.81 155.34,210.73 155.83,210.66 156.32,210.58 156.81,210.51 157.30,210.44 157.80,210.36 158.29,210.29 158.78,210.22 159.27,210.14 159.76,210.07 160.25,210.00 160.74,209.93 161.23,209.86 161.72,209.78 162.22,209.71 162.71,209.64 163.20,209.57 163.69,209.50 164.18,209.43 164.67,209.36 165.16,209.29 165.65,209.22 166.15,209.15 166.64,209.09 167.13,209.02 167.62,208.95 168.11,208.88 168.60,208.82 169.09,208.75 169.58,208.68 170.08,208.62 170.57,208.55 171.06,208.49 171.55,208.42 172.04,208.36 172.53,208.30 173.02,208.23 173.51,208.17 174.00,208.11 174.50,208.05 174.99,207.98 175.48,207.92 175.97,207.86 176.46,207.80 176.95,207.74 177.44,207.68 177.93,207.62 178.43,207.56 178.92,207.50 179.41,207.44 179.90,207.39 180.39,207.33 180.88,207.27 181.37,207.21 181.86,207.15 182.36,207.10 182.85,207.04 183.34,206.98 183.83,206.93 184.32,206.87 184.81,206.82 185.30,206.76 185.79,206.71 186.28,206.65 186.78,206.60 187.27,206.54 187.76,206.49 188.25,206.43 188.74,206.38 189.23,206.32 189.72,206.27 190.21,206.22 190.71,206.16 191.20,206.11 191.69,206.06 192.18,206.01 192.67,205.95 193.16,205.90 193.65,205.85 194.14,205.80 194.64,205.74 195.13,205.69 195.62,205.64 196.11,205.59 196.60,205.54 197.09,205.49 197.58,205.44 198.07,205.38 198.56,205.33 199.06,205.28 199.55,205.23 200.04,205.18 200.53,205.13 201.02,205.08 201.51,205.03 202.00,204.98 202.49,204.93 202.99,204.88 203.48,204.83 203.97,204.78 204.46,204.73 204.95,204.68 205.44,204.63 205.93,204.58 206.42,204.53 206.92,204.48 207.41,204.43 207.90,204.38 208.39,204.32 208.88,204.27 209.37,204.22 209.86,204.17 210.35,204.12 210.84,204.07 211.34,204.02 211.83,203.97 212.32,203.92 212.81,203.87 213.30,203.82 213.79,203.77 214.28,203.73 214.77,203.68 215.27,203.63 215.76,203.58 216.25,203.53 216.74,203.48 217.23,203.43 217.72,203.38 218.21,203.33 218.70,203.28 219.20,203.23 219.69,203.19 220.18,203.14 220.67,203.09 221.16,203.04 221.65,202.99 222.14,202.95 222.63,202.90 223.12,202.85 223.62,202.81 224.11,202.76 224.60,202.71 225.09,202.67 225.58,202.62 226.07,202.57 226.56,202.53 227.05,202.48 227.55,202.44 228.04,202.39 228.53,202.35 229.02,202.30 229.51,202.26 230.00,202.21 230.49,202.17 230.98,202.13 231.48,202.08 231.97,202.04 232.46,202.00 232.95,201.95 233.44,201.91 233.93,201.87 234.42,201.83 234.91,201.79 235.40,201.75 235.90,201.71 236.39,201.67 236.88,201.63 237.37,201.59 237.86,201.55 238.35,201.51 238.84,201.47 239.33,201.43 239.83,201.39 240.32,201.36 240.81,201.32 241.30,201.28 241.79,201.25 242.28,201.21 242.77,201.18 243.26,201.14 243.76,201.11 244.25,201.07 244.74,201.04 245.23,201.00 245.72,200.97 246.21,200.94 246.70,200.91 247.19,200.87 247.68,200.84 248.18,200.81 248.67,200.78 249.16,200.75 249.65,200.72 250.14,200.69 250.63,200.67 251.12,200.64 251.61,200.61 252.11,200.58 252.60,200.55 253.09,200.53 253.58,200.50 254.07,200.48 254.56,200.45 255.05,200.42 255.54,200.40 256.04,200.37 256.53,200.35 257.02,200.33 257.51,200.30 258.00,200.28 258.49,200.26 258.98,200.23 259.47,200.21 259.96,200.19 260.46,200.17 260.95,200.15 261.44,200.13 261.93,200.10 262.42,200.08 262.91,200.06 263.40,200.04 263.89,200.02 264.39,200.01 264.88,199.99 265.37,199.97 265.86,199.95 266.35,199.93 266.84,199.91 267.33,199.90 267.82,199.88 268.32,199.86 268.81,199.85 269.30,199.83 269.79,199.81 270.28,199.80 270.77,199.78 271.26,199.77 271.75,199.75 272.24,199.74 272.74,199.72 273.23,199.71 273.72,199.70 274.21,199.68 274.70,199.67 275.19,199.66 275.68,199.64 276.17,199.63 276.67,199.62 277.16,199.60 277.65,199.59 278.14,199.58 278.63,199.57 279.12,199.56 279.61,199.55 280.10,199.54 280.60,199.52 281.09,199.51 281.58,199.50 282.07,199.49 282.56,199.48 283.05,199.47 283.54,199.46 284.03,199.45 284.52,199.45 285.02,199.44 285.51,199.43 286.00,199.42 286.49,199.41 286.98,199.40 287.47,199.39 287.96,199.39 288.45,199.38 288.95,199.37 289.44,199.36 289.93,199.36 290.42,199.35 290.91,199.34 291.40,199.34 291.89,199.33 292.38,199.32 292.88,199.32 293.37,199.31 293.86,199.31 294.35,199.30 294.84,199.30 295.33,199.29 295.82,199.29 296.31,199.29 296.80,199.28 297.30,199.28 297.79,199.28 298.28,199.27 298.77,199.27 299.26,199.27 299.75,199.27 300.24,199.27 300.73,199.26 301.23,199.26 301.72,199.26 302.21,199.26 302.70,199.26 303.19,199.26 303.68,199.26 304.17,199.26 304.66,199.27 305.16,199.27 305.65,199.27 306.14,199.27 306.63,199.27 307.12,199.28 307.61,199.28 308.10,199.28 308.59,199.29 309.08,199.29 309.58,199.29 310.07,199.30 310.56,199.30 311.05,199.31 311.54,199.31 312.03,199.32 312.52,199.32 313.01,199.33 313.51,199.34 314.00,199.34 314.49,199.35 314.98,199.36 315.47,199.37 315.96,199.37 316.45,199.38 316.94,199.39 317.44,199.40 317.93,199.41 318.42,199.42 318.91,199.43 319.40,199.44 319.89,199.45 320.38,199.46 320.87,199.47 321.36,199.48 321.86,199.49 322.35,199.51 322.84,199.52 323.33,199.53 323.82,199.54 324.31,199.56 324.80,199.57 325.29,199.58 325.79,199.60 326.28,199.61 326.77,199.63 327.26,199.64 327.75,199.66 328.24,199.67 328.73,199.69 329.22,199.70 329.72,199.72 330.21,199.74 330.70,199.75 331.19,199.77 331.68,199.79 332.17,199.81 332.66,199.83 333.15,199.85 333.64,199.86 334.14,199.88 334.63,199.90 335.12,199.92 335.61,199.94 336.10,199.96 336.59,199.99 337.08,200.01 337.57,200.03 338.07,200.05 338.56,200.07 339.05,200.10 339.54,200.12 340.03,200.14 340.52,200.17 341.01,200.19 341.50,200.21 342.00,200.24 342.49,200.26 342.98,200.29 343.47,200.31 343.96,200.34 344.45,200.37 344.94,200.39 345.43,200.42 345.92,200.45 346.42,200.47 346.91,200.50 347.40,200.53 347.89,200.56 348.38,200.59 348.87,200.62 349.36,200.65 349.85,200.68 350.35,200.71 350.84,200.74 351.33,200.77 351.82,200.80 352.31,200.83 352.80,200.86 353.29,200.89 353.78,200.93 354.28,200.96 354.77,200.99 355.26,201.03 355.75,201.06 356.24,201.10 356.73,201.13 357.22,201.17 357.71,201.20 358.20,201.24 358.70,201.27 359.19,201.31 359.68,201.35 360.17,201.38 360.66,201.42 361.15,201.46 361.64,201.50 362.13,201.54 362.63,201.58 363.12,201.61 363.61,201.65 364.10,201.70 364.59,201.74 365.08,201.78 365.57,201.82 366.06,201.86 366.56,201.90 367.05,201.94 367.54,201.99 368.03,202.03 368.52,202.07 369.01,202.12 369.50,202.16 369.99,202.21 370.48,202.25 370.98,202.30 371.47,202.34 371.96,202.39 372.45,202.44 372.94,202.48 373.43,202.53 373.92,202.58 374.41,202.63 374.91,202.68 375.40,202.73 375.89,202.78 376.38,202.83 376.87,202.88 377.36,202.93 377.85,202.98 378.34,203.03 378.84,203.08 379.33,203.13 379.82,203.19 380.31,203.24 380.80,203.29 381.29,203.35 381.78,203.40 382.27,203.46 382.76,203.51 383.26,203.57 383.75,203.63 384.24,203.68 384.73,203.74 385.22,203.80 385.71,203.86 386.20,203.92 386.69,203.98 387.19,204.04 387.68,204.10 388.17,204.16 388.66,204.22 389.15,204.28 389.64,204.34 390.13,204.40 390.62,204.47 391.12,204.53 391.61,204.60 392.10,204.66 392.59,204.73 393.08,204.79 393.57,204.86 394.06,204.92 394.55,204.99 395.04,205.06 395.54,205.13 396.03,205.20 396.52,205.27 397.01,205.34 397.50,205.41 397.99,205.48 398.48,205.55 398.97,205.62 399.47,205.70 399.96,205.77 400.45,205.84 400.94,205.92 401.43,205.99 401.92,206.07 402.41,206.15 402.90,206.22 403.40,206.30 403.89,206.38 404.38,206.46 404.87,206.54 405.36,206.62 405.85,206.70 406.34,206.78 406.83,206.87 407.32,206.95 407.82,207.03 408.31,207.12 408.80,207.20 409.29,207.29 409.78,207.38 410.27,207.46 410.76,207.55 411.25,207.64 411.75,207.73 412.24,207.82 412.73,207.91 413.22,208.01 413.71,208.10 414.20,208.19 414.69,208.29 415.18,208.38 415.68,208.48 416.17,208.58 416.66,208.68 417.15,208.78 417.64,208.88 418.13,208.98 418.62,209.08 419.11,209.19 419.60,209.29 420.10,209.40 420.59,209.50 421.08,209.61 421.57,209.72 422.06,209.83 422.55,209.94 423.04,210.05 423.53,210.17 424.03,210.28 424.52,210.40 425.01,210.52 425.50,210.63 425.99,210.75 426.48,210.88 426.97,211.00 427.46,211.12 427.96,211.25 428.45,211.38 428.94,211.50 429.43,211.63 429.92,211.77 430.41,211.90 430.90,212.04 431.39,212.17 431.88,212.31 432.38,212.45 432.87,212.59 433.36,212.74 433.85,212.88 434.34,213.03 434.83,213.18 435.32,213.34 435.81,213.49 436.31,213.65 436.80,213.81 437.29,213.97 437.78,214.13 438.27,214.30 438.76,214.47 439.25,214.64 439.74,214.82 440.24,214.99 440.73,215.17 441.22,215.36 441.71,215.54 442.20,215.73 442.69,215.93 443.18,216.13 443.67,216.33 444.16,216.53 444.66,216.74 445.15,216.95 445.64,217.17 446.13,217.39 446.62,217.62 447.11,217.85 447.60,218.08 448.09,218.33 448.59,218.57 449.08,218.82 449.57,219.08 450.06,219.35 450.55,219.62 451.04,219.89 451.53,220.18 452.02,220.47 452.52,220.77 453.01,221.08 453.50,221.39 453.99,221.72 454.48,222.05 454.97,222.40 455.46,222.75 455.95,223.12 456.44,223.50 456.94,223.89 457.43,224.29 457.92,224.71 458.41,225.14 458.90,225.59 459.39,226.05 459.88,226.53 460.37,227.03 460.87,227.55 461.36,228.09 461.85,228.66 462.34,229.24 462.83,229.86 463.32,230.50 463.81,231.18 464.30,231.88 464.80,232.63 465.29,233.41 465.78,234.23 466.27,235.10 466.76,236.02 467.25,236.99 467.74,238.03 468.23,239.13 468.72,240.30 469.22,241.55 469.71,242.90 470.20,244.34 470.69,245.89 471.18,247.57 471.67,249.39 472.16,251.37 472.65,253.54 473.15,255.91 473.64,258.52 474.13,261.44 474.62,264.57 475.11,268.06 475.60,271.90 476.09,276.40 476.58,281.60 477.08,287.50 477.57,294.40 478.06,302.80 478.55,312.75 479.04,324.90" fill="none" stroke="none" marker-start="url(#me)" marker-mid="url(#me)" marker-end="url(#me)"/>
<path d="M2.8 238.5H492.6M326.5 35.5V341" stroke="#1c1c1c" stroke-width="1" fill="none"/>
<path d="M12.50 238.5v-5.6 M28.00 238.5v-3.5 M43.50 238.5v-3.5 M59.50 238.5v-3.5 M75.00 238.5v-3.5 M91.00 238.5v-5.6 M106.50 238.5v-3.5 M122.00 238.5v-3.5 M138.00 238.5v-3.5 M153.50 238.5v-3.5 M169.00 238.5v-5.6 M185.00 238.5v-3.5 M200.50 238.5v-3.5 M216.50 238.5v-3.5 M232.00 238.5v-3.5 M247.50 238.5v-5.6 M263.50 238.5v-3.5 M279.00 238.5v-3.5 M294.50 238.5v-3.5 M310.50 238.5v-3.5 M342.00 238.5v-3.5 M357.50 238.5v-3.5 M373.00 238.5v-3.5 M389.00 238.5v-3.5 M404.50 238.5v-5.6 M420.00 238.5v-3.5 M436.00 238.5v-3.5 M451.50 238.5v-3.5 M467.50 238.5v-3.5 M483.00 238.5v-5.6 M326.5 335.00h3.5 M326.5 324.50h3.5 M326.5 313.50h3.5 M326.5 303.00h3.5 M326.5 292.00h5.6 M326.5 281.50h3.5 M326.5 270.50h3.5 M326.5 260.00h3.5 M326.5 249.00h3.5 M326.5 228.00h3.5 M326.5 217.00h3.5 M326.5 206.50h3.5 M326.5 195.50h3.5 M326.5 185.00h5.6 M326.5 174.00h3.5 M326.5 163.50h3.5 M326.5 152.50h3.5 M326.5 142.00h3.5 M326.5 131.00h5.6 M326.5 120.50h3.5 M326.5 109.50h3.5 M326.5 99.00h3.5 M326.5 88.50h3.5 M326.5 77.50h5.6 M326.5 67.00h3.5 M326.5 56.00h3.5 M326.5 45.50h3.5" stroke="#1c1c1c" stroke-width="0.9" fill="none"/>
<g class="t" font-size="12.6" fill="#98a7aa"><text x="11.9" y="255.3" text-anchor="middle">−2.0</text>
<text x="90.3" y="255.3" text-anchor="middle">−1.5</text>
<text x="168.8" y="255.3" text-anchor="middle">−1.0</text>
<text x="247.3" y="255.3" text-anchor="middle">−0.5</text>
<text x="404.2" y="255.3" text-anchor="middle">0.5</text>
<text x="482.6" y="255.3" text-anchor="middle">1.0</text>
<text x="322" y="81.8" font-size="13.2" text-anchor="end">3</text>
<text x="322" y="135.4" font-size="13.2" text-anchor="end">2</text>
<text x="322" y="189.0" font-size="13.2" text-anchor="end">1</text>
<text x="322" y="296.3" font-size="13.2" text-anchor="end">−1</text></g>
<g fill="#98a7aa">
<text x="504.5" y="242.9" font-size="12.5" font-style="italic">c</text>
<text x="317.8" y="22.9" font-size="13.3" font-style="italic">b</text>
<text x="329.7" y="13.9" font-size="8.2" text-anchor="middle">1</text>
<text x="324.9" y="26.7" font-size="8.8">1,2</text>
<path d="M326.4 5.6Q324.8 11.5 326.4 17.4M332.9 5.6Q334.5 11.5 332.9 17.4" fill="none" stroke="#98a7aa" stroke-width="0.75"/>
</g>
<g class="t"><circle cx="534" cy="88.55" r="3.6" fill="#5E81B5"/>
<text transform="translate(550.1 94.00) scale(0.952 1)" font-size="19.3" fill="#dedede">10</text>
<circle cx="534" cy="121.05" r="3.6" fill="#E19C24"/>
<text transform="translate(550.1 126.50) scale(0.952 1)" font-size="19.3" fill="#dedede">12</text>
<circle cx="534" cy="153.55" r="3.6" fill="#8FB032"/>
<text transform="translate(550.1 159.00) scale(0.952 1)" font-size="19.3" fill="#dedede">14</text>
<circle cx="534" cy="186.05" r="3.6" fill="#EB6235"/>
<text transform="translate(550.1 191.50) scale(0.952 1)" font-size="19.3" fill="#dedede">16</text>
<circle cx="534" cy="218.55" r="3.6" fill="#8778B3"/>
<text transform="translate(550.1 224.00) scale(0.952 1)" font-size="19.3" fill="#dedede">18</text>
<circle cx="534" cy="251.05" r="3.6" fill="#C56E1A"/>
<text transform="translate(550.1 256.50) scale(0.952 1)" font-size="19.3" fill="#dedede">extrapolation</text></g>
</svg>
</body></html>
